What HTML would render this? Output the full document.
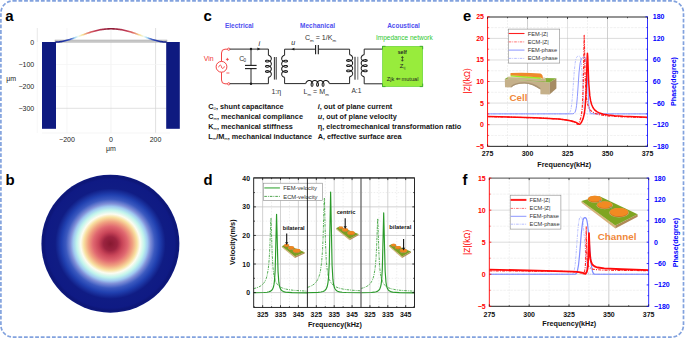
<!DOCTYPE html>
<html><head><meta charset="utf-8"><style>
html,body{margin:0;padding:0;background:#fff;width:685px;height:338px;overflow:hidden;}
svg{display:block;font-family:"Liberation Sans", sans-serif;}
</style></head><body>
<svg width="685" height="338" viewBox="0 0 685 338" font-family='"Liberation Sans", sans-serif'><rect x="0.9" y="0.9" width="682.6" height="336.2" rx="12" ry="12" fill="none" stroke="#82a2de" stroke-width="1.7" stroke-dasharray="3.8 1.8"/>
<text x="5.30" y="21.00" font-size="15" font-weight="bold" fill="#000" text-anchor="start" >a</text>
<line x1="37.30" y1="28.00" x2="37.30" y2="42.00" stroke="#e0e0e0" stroke-width="0.7" />
<line x1="37.30" y1="42.00" x2="37.30" y2="133.00" stroke="#f3f3f3" stroke-width="0.7" />
<line x1="67.00" y1="28.00" x2="67.00" y2="133.00" stroke="#f2f2f2" stroke-width="0.7" />
<line x1="111.00" y1="28.00" x2="111.00" y2="133.00" stroke="#ececec" stroke-width="0.7" />
<line x1="155.60" y1="28.00" x2="155.60" y2="133.00" stroke="#d2d2d2" stroke-width="0.7" />
<line x1="42.00" y1="64.50" x2="170.00" y2="64.50" stroke="#f4f4f4" stroke-width="0.7" />
<line x1="42.00" y1="86.50" x2="170.00" y2="86.50" stroke="#f2f2f2" stroke-width="0.7" />
<line x1="42.00" y1="108.30" x2="170.00" y2="108.30" stroke="#d4d4d4" stroke-width="0.7" />
<line x1="42.00" y1="133.00" x2="170.00" y2="133.00" stroke="#f0f0f0" stroke-width="0.7" />
<text x="34.20" y="45.30" font-size="7" font-weight="normal" fill="#222" text-anchor="end" >0</text>
<text x="34.20" y="67.10" font-size="7" font-weight="normal" fill="#222" text-anchor="end" >−100</text>
<text x="34.20" y="89.10" font-size="7" font-weight="normal" fill="#222" text-anchor="end" >−200</text>
<text x="34.20" y="111.00" font-size="7" font-weight="normal" fill="#222" text-anchor="end" >−300</text>
<text x="6.20" y="80.80" font-size="7" font-weight="normal" fill="#222" text-anchor="start" >μm</text>
<text x="67.00" y="142.20" font-size="7" font-weight="normal" fill="#222" text-anchor="middle" >−200</text>
<text x="111.00" y="142.20" font-size="7" font-weight="normal" fill="#222" text-anchor="middle" >0</text>
<text x="155.50" y="142.20" font-size="7" font-weight="normal" fill="#222" text-anchor="middle" >200</text>
<text x="111.00" y="150.80" font-size="7" font-weight="normal" fill="#222" text-anchor="middle" >μm</text>
<rect x="55" y="40" width="112" height="2.2" fill="#c8c8c8" stroke="#a8a8a8" stroke-width="0.5"/>
<rect x="42" y="42" width="14" height="86.8" fill="#0e1a80"/>
<rect x="166.2" y="42" width="13.6" height="86.8" fill="#0e1a80"/>
<defs><linearGradient id="ga" x1="56" x2="166" y1="0" y2="0" gradientUnits="userSpaceOnUse"><stop offset="0.0000" stop-color="#101a82"/><stop offset="0.1000" stop-color="#2840b0"/><stop offset="0.1450" stop-color="#5a7ad0"/><stop offset="0.1675" stop-color="#98d0f0"/><stop offset="0.2000" stop-color="#eefcf4"/><stop offset="0.2425" stop-color="#f8e096"/><stop offset="0.2950" stop-color="#e2786a"/><stop offset="0.3600" stop-color="#c23a55"/><stop offset="0.5000" stop-color="#8a1a35"/><stop offset="0.5000" stop-color="#8a1a35"/><stop offset="0.6400" stop-color="#c23a55"/><stop offset="0.7050" stop-color="#e2786a"/><stop offset="0.7575" stop-color="#f8e096"/><stop offset="0.8000" stop-color="#eefcf4"/><stop offset="0.8325" stop-color="#98d0f0"/><stop offset="0.8550" stop-color="#5a7ad0"/><stop offset="0.9000" stop-color="#2840b0"/><stop offset="1.0000" stop-color="#101a82"/></linearGradient></defs>
<path d="M56.00,42.00 L57.00,41.98 L58.00,41.93 L59.00,41.85 L60.00,41.74 L61.00,41.60 L62.00,41.44 L63.00,41.25 L64.00,41.04 L65.00,40.81 L66.00,40.56 L67.00,40.29 L68.00,40.01 L69.00,39.71 L70.00,39.39 L71.00,39.07 L72.00,38.74 L73.00,38.39 L74.00,38.04 L75.00,37.69 L76.00,37.33 L77.00,36.96 L78.00,36.59 L79.00,36.22 L80.00,35.85 L81.00,35.49 L82.00,35.12 L83.00,34.76 L84.00,34.40 L85.00,34.04 L86.00,33.69 L87.00,33.35 L88.00,33.01 L89.00,32.69 L90.00,32.37 L91.00,32.06 L92.00,31.76 L93.00,31.48 L94.00,31.20 L95.00,30.94 L96.00,30.69 L97.00,30.46 L98.00,30.23 L99.00,30.03 L100.00,29.83 L101.00,29.66 L102.00,29.50 L103.00,29.35 L104.00,29.22 L105.00,29.11 L106.00,29.02 L107.00,28.94 L108.00,28.88 L109.00,28.83 L110.00,28.81 L111.00,28.80 L112.00,28.81 L113.00,28.83 L114.00,28.88 L115.00,28.94 L116.00,29.02 L117.00,29.11 L118.00,29.22 L119.00,29.35 L120.00,29.50 L121.00,29.66 L122.00,29.83 L123.00,30.03 L124.00,30.23 L125.00,30.46 L126.00,30.69 L127.00,30.94 L128.00,31.20 L129.00,31.48 L130.00,31.76 L131.00,32.06 L132.00,32.37 L133.00,32.69 L134.00,33.01 L135.00,33.35 L136.00,33.69 L137.00,34.04 L138.00,34.40 L139.00,34.76 L140.00,35.12 L141.00,35.49 L142.00,35.85 L143.00,36.22 L144.00,36.59 L145.00,36.96 L146.00,37.33 L147.00,37.69 L148.00,38.04 L149.00,38.39 L150.00,38.74 L151.00,39.07 L152.00,39.39 L153.00,39.71 L154.00,40.01 L155.00,40.29 L156.00,40.56 L157.00,40.81 L158.00,41.04 L159.00,41.25 L160.00,41.44 L161.00,41.60 L162.00,41.74 L163.00,41.85 L164.00,41.93 L165.00,41.98 L166.00,42.00" fill="none" stroke="url(#ga)" stroke-width="1.6" stroke-linejoin="round" stroke-linecap="round"/>
<text x="5.60" y="184.60" font-size="15" font-weight="bold" fill="#000" text-anchor="start" >b</text>
<defs><radialGradient id="gb" cx="110.4" cy="243.7" r="69" gradientUnits="userSpaceOnUse"><stop offset="0" stop-color="#861830"/><stop offset="0.1" stop-color="#9c2440"/><stop offset="0.17" stop-color="#c84458"/><stop offset="0.25" stop-color="#e06870"/><stop offset="0.32" stop-color="#f0a080"/><stop offset="0.385" stop-color="#f8e0a0"/><stop offset="0.43" stop-color="#fcfcf0"/><stop offset="0.49" stop-color="#c0f4ec"/><stop offset="0.54" stop-color="#a0c8f0"/><stop offset="0.58" stop-color="#8090d8"/><stop offset="0.645" stop-color="#3c5ac0"/><stop offset="0.71" stop-color="#2040b0"/><stop offset="0.8" stop-color="#101c84"/><stop offset="0.93" stop-color="#0f1a84"/><stop offset="0.97" stop-color="#0d1676"/><stop offset="1" stop-color="#0f1a80"/></radialGradient></defs>
<circle cx="110.4" cy="243.7" r="69" fill="url(#gb)"/>
<text x="203.60" y="21.20" font-size="15" font-weight="bold" fill="#000" text-anchor="start" >c</text>
<text x="225.00" y="28.00" font-size="6.45" font-weight="bold" fill="#5050f0" text-anchor="start" >Electrical</text>
<text x="300.10" y="27.60" font-size="6.5" font-weight="bold" fill="#5050f0" text-anchor="start" >Mechanical</text>
<text x="387.20" y="28.00" font-size="6.47" font-weight="bold" fill="#5050f0" text-anchor="start" >Acoustical</text>
<text x="375.90" y="39.50" font-size="6.53" font-weight="normal" fill="#30c830" text-anchor="start" >Impedance network</text>
<circle cx="228.7" cy="49.2" r="1.15" fill="#fff" stroke="#f03030" stroke-width="0.8"/>
<circle cx="228.7" cy="83.8" r="1.15" fill="#fff" stroke="#f03030" stroke-width="0.8"/>
<path d="M227.5,49.2 L225,49.2 Q221.5,49.2 221.5,53 L221.5,61.3" fill="none" stroke="#f03030" stroke-width="0.9"/>
<path d="M227.5,83.8 L225,83.8 Q221.5,83.8 221.5,80 L221.5,72.3" fill="none" stroke="#f03030" stroke-width="0.9"/>
<circle cx="221.5" cy="66.8" r="5.4" fill="none" stroke="#f03030" stroke-width="0.9"/>
<path d="M218.6,67.3 C219.6,64.3 221.2,64.6 221.5,66.8 C221.8,69 223.4,69.3 224.4,66.3" fill="none" stroke="#f03030" stroke-width="0.8"/>
<path d="M225.9,59.4 h3 M227.4,57.9 v3 M226.4,73 h3" stroke="#f03030" stroke-width="0.75"/>
<text x="203.80" y="61.20" font-size="6.9" font-weight="normal" fill="#f03030" text-anchor="start" >Vin</text>
<line x1="229.80" y1="49.10" x2="268.40" y2="49.10" stroke="#1a1a1a" stroke-width="0.95" />
<line x1="229.80" y1="83.70" x2="268.40" y2="83.70" stroke="#1a1a1a" stroke-width="0.95" />
<circle cx="251" cy="49" r="1.2" fill="#1a1a1a"/><circle cx="251" cy="83.7" r="1.2" fill="#1a1a1a"/>
<line x1="251.00" y1="49.00" x2="251.00" y2="65.40" stroke="#1a1a1a" stroke-width="0.95" />
<line x1="251.00" y1="68.60" x2="251.00" y2="83.70" stroke="#1a1a1a" stroke-width="0.95" />
<line x1="245.00" y1="65.40" x2="256.60" y2="65.40" stroke="#1a1a1a" stroke-width="1.1" />
<line x1="245.00" y1="68.60" x2="256.60" y2="68.60" stroke="#1a1a1a" stroke-width="1.1" />
<text x="239.20" y="60.60" font-size="6.8" font-weight="normal" fill="#333" text-anchor="start" >C</text>
<text x="243.60" y="62.20" font-size="4.6" font-weight="normal" fill="#333" text-anchor="start" >0</text>
<path d="M257.4,47.6 L260.4,49.05 L257.4,50.5 Z" fill="#1a1a1a"/>
<text x="259.30" y="45.60" font-size="7" font-weight="normal" fill="#222" text-anchor="middle" font-style="italic" >i</text>
<line x1="268.40" y1="49.10" x2="268.40" y2="55.20" stroke="#1a1a1a" stroke-width="0.95" />
<path d="M268.40,55.20 L268.56,55.25 L268.72,55.30 L268.88,55.36 L269.03,55.43 L269.19,55.50 L269.34,55.58 L269.49,55.66 L269.63,55.75 L269.78,55.85 L269.92,55.95 L270.05,56.06 L270.18,56.17 L270.30,56.28 L270.42,56.40 L270.53,56.52 L270.63,56.65 L270.73,56.79 L270.82,56.92 L270.91,57.06 L270.98,57.20 L271.05,57.35 L271.11,57.49 L271.17,57.64 L271.21,57.79 L271.24,57.95 L271.27,58.10 L271.29,58.26 L271.30,58.41 L271.30,58.57 L271.29,58.72 L271.27,58.88 L271.25,59.03 L271.21,59.18 L271.17,59.34 L271.12,59.48 L271.06,59.63 L270.99,59.78 L270.92,59.92 L270.84,60.06 L270.75,60.20 L270.65,60.33 L270.54,60.46 L270.43,60.58 L270.32,60.70 L270.20,60.82 L270.07,60.93 L269.93,61.04 L269.80,61.14 L269.66,61.23 L269.51,61.32 L269.36,61.41 L269.21,61.49 L269.05,61.56 L268.90,61.63 L268.74,61.69 L268.58,61.74 L268.42,61.79 L268.26,61.84 L268.10,61.87 L267.95,61.91 L267.79,61.93 L267.63,61.95 L267.48,61.96 L267.33,61.97 L267.19,61.97 L267.04,61.97 L266.90,61.96 L266.77,61.95 L266.64,61.93 L266.52,61.91 L266.40,61.88 L266.29,61.85 L266.18,61.81 L266.08,61.77 L265.99,61.72 L265.90,61.68 L265.83,61.63 L265.76,61.57 L265.70,61.52 L265.64,61.46 L265.60,61.40 L265.56,61.34 L265.53,61.27 L265.51,61.21 L265.50,61.15 L265.50,61.08 L265.51,61.02 L265.52,60.95 L265.55,60.89 L265.58,60.83 L265.62,60.77 L265.67,60.71 L265.73,60.65 L265.80,60.60 L265.87,60.55 L265.95,60.50 L266.04,60.45 L266.14,60.41 L266.24,60.37 L266.35,60.34 L266.47,60.31 L266.59,60.28 L266.71,60.26 L266.85,60.24 L266.98,60.23 L267.12,60.23 L267.27,60.23 L267.42,60.23 L267.57,60.24 L267.72,60.26 L267.88,60.28 L268.04,60.31 L268.20,60.35 L268.35,60.39 L268.51,60.43 L268.67,60.49 L268.83,60.55 L268.99,60.61 L269.14,60.68 L269.30,60.76 L269.45,60.84 L269.59,60.93 L269.74,61.02 L269.88,61.12 L270.01,61.22 L270.14,61.33 L270.27,61.45 L270.39,61.57 L270.50,61.69 L270.61,61.82 L270.71,61.95 L270.80,62.08 L270.88,62.22 L270.96,62.36 L271.03,62.51 L271.10,62.65 L271.15,62.80 L271.20,62.95 L271.24,63.10 L271.26,63.26 L271.28,63.41 L271.30,63.57 L271.30,63.72 L271.29,63.88 L271.28,64.03 L271.26,64.19 L271.23,64.34 L271.18,64.49 L271.14,64.64 L271.08,64.79 L271.01,64.94 L270.94,65.08 L270.86,65.22 L270.77,65.36 L270.68,65.49 L270.58,65.62 L270.47,65.75 L270.35,65.87 L270.23,65.99 L270.10,66.10 L269.97,66.21 L269.84,66.31 L269.70,66.41 L269.55,66.50 L269.40,66.58 L269.25,66.66 L269.10,66.74 L268.94,66.81 L268.79,66.87 L268.63,66.93 L268.47,66.98 L268.31,67.03 L268.15,67.06 L267.99,67.10 L267.83,67.12 L267.68,67.15 L267.53,67.16 L267.37,67.17 L267.23,67.17 L267.08,67.17 L266.94,67.16 L266.81,67.15 L266.68,67.14 L266.55,67.11 L266.43,67.09 L266.32,67.05 L266.21,67.02 L266.11,66.98 L266.01,66.94 L265.93,66.89 L265.85,66.84 L265.78,66.79 L265.71,66.73 L265.66,66.67 L265.61,66.62 L265.57,66.55 L265.54,66.49 L265.52,66.43 L265.50,66.36 L265.50,66.30 L265.50,66.24 L265.52,66.17 L265.54,66.11 L265.57,66.05 L265.61,65.98 L265.66,65.93 L265.71,65.87 L265.78,65.81 L265.85,65.76 L265.93,65.71 L266.01,65.66 L266.11,65.62 L266.21,65.58 L266.32,65.55 L266.43,65.51 L266.55,65.49 L266.68,65.46 L266.81,65.45 L266.94,65.44 L267.08,65.43 L267.23,65.43 L267.37,65.43 L267.53,65.44 L267.68,65.45 L267.83,65.48 L267.99,65.50 L268.15,65.54 L268.31,65.57 L268.47,65.62 L268.63,65.67 L268.79,65.73 L268.94,65.79 L269.10,65.86 L269.25,65.94 L269.40,66.02 L269.55,66.10 L269.70,66.19 L269.84,66.29 L269.97,66.39 L270.10,66.50 L270.23,66.61 L270.35,66.73 L270.47,66.85 L270.58,66.98 L270.68,67.11 L270.77,67.24 L270.86,67.38 L270.94,67.52 L271.01,67.66 L271.08,67.81 L271.14,67.96 L271.18,68.11 L271.23,68.26 L271.26,68.41 L271.28,68.57 L271.29,68.72 L271.30,68.88 L271.30,69.03 L271.28,69.19 L271.26,69.34 L271.24,69.50 L271.20,69.65 L271.15,69.80 L271.10,69.95 L271.03,70.09 L270.96,70.24 L270.88,70.38 L270.80,70.52 L270.71,70.65 L270.61,70.78 L270.50,70.91 L270.39,71.03 L270.27,71.15 L270.14,71.27 L270.01,71.38 L269.88,71.48 L269.74,71.58 L269.59,71.67 L269.45,71.76 L269.30,71.84 L269.14,71.92 L268.99,71.99 L268.83,72.05 L268.67,72.11 L268.51,72.17 L268.35,72.21 L268.20,72.25 L268.04,72.29 L267.88,72.32 L267.72,72.34 L267.57,72.36 L267.42,72.37 L267.27,72.37 L267.12,72.37 L266.98,72.37 L266.85,72.36 L266.71,72.34 L266.59,72.32 L266.47,72.29 L266.35,72.26 L266.24,72.23 L266.14,72.19 L266.04,72.15 L265.95,72.10 L265.87,72.05 L265.80,72.00 L265.73,71.95 L265.67,71.89 L265.62,71.83 L265.58,71.77 L265.55,71.71 L265.52,71.65 L265.51,71.58 L265.50,71.52 L265.50,71.45 L265.51,71.39 L265.53,71.33 L265.56,71.26 L265.60,71.20 L265.64,71.14 L265.70,71.08 L265.76,71.03 L265.83,70.97 L265.90,70.92 L265.99,70.88 L266.08,70.83 L266.18,70.79 L266.29,70.75 L266.40,70.72 L266.52,70.69 L266.64,70.67 L266.77,70.65 L266.90,70.64 L267.04,70.63 L267.19,70.63 L267.33,70.63 L267.48,70.64 L267.63,70.65 L267.79,70.67 L267.95,70.69 L268.10,70.73 L268.26,70.76 L268.42,70.81 L268.58,70.86 L268.74,70.91 L268.90,70.97 L269.05,71.04 L269.21,71.11 L269.36,71.19 L269.51,71.28 L269.66,71.37 L269.80,71.46 L269.93,71.56 L270.07,71.67 L270.20,71.78 L270.32,71.90 L270.43,72.02 L270.54,72.14 L270.65,72.27 L270.75,72.40 L270.84,72.54 L270.92,72.68 L270.99,72.82 L271.06,72.97 L271.12,73.12 L271.17,73.26 L271.21,73.42 L271.25,73.57 L271.27,73.72 L271.29,73.88 L271.30,74.03 L271.30,74.19 L271.29,74.34 L271.27,74.50 L271.24,74.65 L271.21,74.81 L271.17,74.96 L271.11,75.11 L271.05,75.25 L270.98,75.40 L270.91,75.54 L270.82,75.68 L270.73,75.81 L270.63,75.95 L270.53,76.08 L270.42,76.20 L270.30,76.32 L270.18,76.43 L270.05,76.54 L269.92,76.65 L269.78,76.75 L269.63,76.85 L269.49,76.94 L269.34,77.02 L269.19,77.10 L269.03,77.17 L268.88,77.24 L268.72,77.30 L268.56,77.35 L268.40,77.40" fill="none" stroke="#1a1a1a" stroke-width="1.05" stroke-linejoin="round" />
<line x1="268.40" y1="77.40" x2="268.40" y2="83.70" stroke="#1a1a1a" stroke-width="0.95" />
<line x1="274.40" y1="57.00" x2="274.40" y2="79.60" stroke="#1a1a1a" stroke-width="0.9" />
<line x1="276.20" y1="57.00" x2="276.20" y2="79.60" stroke="#1a1a1a" stroke-width="0.9" />
<path d="M284.60,55.20 L284.44,55.25 L284.28,55.30 L284.12,55.36 L283.97,55.43 L283.81,55.50 L283.66,55.58 L283.51,55.66 L283.37,55.75 L283.22,55.85 L283.08,55.95 L282.95,56.06 L282.82,56.17 L282.70,56.28 L282.58,56.40 L282.47,56.52 L282.37,56.65 L282.27,56.79 L282.18,56.92 L282.09,57.06 L282.02,57.20 L281.95,57.35 L281.89,57.49 L281.83,57.64 L281.79,57.79 L281.76,57.95 L281.73,58.10 L281.71,58.26 L281.70,58.41 L281.70,58.57 L281.71,58.72 L281.73,58.88 L281.75,59.03 L281.79,59.18 L281.83,59.34 L281.88,59.48 L281.94,59.63 L282.01,59.78 L282.08,59.92 L282.16,60.06 L282.25,60.20 L282.35,60.33 L282.46,60.46 L282.57,60.58 L282.68,60.70 L282.80,60.82 L282.93,60.93 L283.07,61.04 L283.20,61.14 L283.34,61.23 L283.49,61.32 L283.64,61.41 L283.79,61.49 L283.95,61.56 L284.10,61.63 L284.26,61.69 L284.42,61.74 L284.58,61.79 L284.74,61.84 L284.90,61.87 L285.05,61.91 L285.21,61.93 L285.37,61.95 L285.52,61.96 L285.67,61.97 L285.81,61.97 L285.96,61.97 L286.10,61.96 L286.23,61.95 L286.36,61.93 L286.48,61.91 L286.60,61.88 L286.71,61.85 L286.82,61.81 L286.92,61.77 L287.01,61.72 L287.10,61.68 L287.17,61.63 L287.24,61.57 L287.30,61.52 L287.36,61.46 L287.40,61.40 L287.44,61.34 L287.47,61.27 L287.49,61.21 L287.50,61.15 L287.50,61.08 L287.49,61.02 L287.48,60.95 L287.45,60.89 L287.42,60.83 L287.38,60.77 L287.33,60.71 L287.27,60.65 L287.20,60.60 L287.13,60.55 L287.05,60.50 L286.96,60.45 L286.86,60.41 L286.76,60.37 L286.65,60.34 L286.53,60.31 L286.41,60.28 L286.29,60.26 L286.15,60.24 L286.02,60.23 L285.88,60.23 L285.73,60.23 L285.58,60.23 L285.43,60.24 L285.28,60.26 L285.12,60.28 L284.96,60.31 L284.80,60.35 L284.65,60.39 L284.49,60.43 L284.33,60.49 L284.17,60.55 L284.01,60.61 L283.86,60.68 L283.70,60.76 L283.55,60.84 L283.41,60.93 L283.26,61.02 L283.12,61.12 L282.99,61.22 L282.86,61.33 L282.73,61.45 L282.61,61.57 L282.50,61.69 L282.39,61.82 L282.29,61.95 L282.20,62.08 L282.12,62.22 L282.04,62.36 L281.97,62.51 L281.90,62.65 L281.85,62.80 L281.80,62.95 L281.76,63.10 L281.74,63.26 L281.72,63.41 L281.70,63.57 L281.70,63.72 L281.71,63.88 L281.72,64.03 L281.74,64.19 L281.77,64.34 L281.82,64.49 L281.86,64.64 L281.92,64.79 L281.99,64.94 L282.06,65.08 L282.14,65.22 L282.23,65.36 L282.32,65.49 L282.42,65.62 L282.53,65.75 L282.65,65.87 L282.77,65.99 L282.90,66.10 L283.03,66.21 L283.16,66.31 L283.30,66.41 L283.45,66.50 L283.60,66.58 L283.75,66.66 L283.90,66.74 L284.06,66.81 L284.21,66.87 L284.37,66.93 L284.53,66.98 L284.69,67.03 L284.85,67.06 L285.01,67.10 L285.17,67.12 L285.32,67.15 L285.47,67.16 L285.63,67.17 L285.77,67.17 L285.92,67.17 L286.06,67.16 L286.19,67.15 L286.32,67.14 L286.45,67.11 L286.57,67.09 L286.68,67.05 L286.79,67.02 L286.89,66.98 L286.99,66.94 L287.07,66.89 L287.15,66.84 L287.22,66.79 L287.29,66.73 L287.34,66.67 L287.39,66.62 L287.43,66.55 L287.46,66.49 L287.48,66.43 L287.50,66.36 L287.50,66.30 L287.50,66.24 L287.48,66.17 L287.46,66.11 L287.43,66.05 L287.39,65.98 L287.34,65.93 L287.29,65.87 L287.22,65.81 L287.15,65.76 L287.07,65.71 L286.99,65.66 L286.89,65.62 L286.79,65.58 L286.68,65.55 L286.57,65.51 L286.45,65.49 L286.32,65.46 L286.19,65.45 L286.06,65.44 L285.92,65.43 L285.77,65.43 L285.63,65.43 L285.47,65.44 L285.32,65.45 L285.17,65.48 L285.01,65.50 L284.85,65.54 L284.69,65.57 L284.53,65.62 L284.37,65.67 L284.21,65.73 L284.06,65.79 L283.90,65.86 L283.75,65.94 L283.60,66.02 L283.45,66.10 L283.30,66.19 L283.16,66.29 L283.03,66.39 L282.90,66.50 L282.77,66.61 L282.65,66.73 L282.53,66.85 L282.42,66.98 L282.32,67.11 L282.23,67.24 L282.14,67.38 L282.06,67.52 L281.99,67.66 L281.92,67.81 L281.86,67.96 L281.82,68.11 L281.77,68.26 L281.74,68.41 L281.72,68.57 L281.71,68.72 L281.70,68.88 L281.70,69.03 L281.72,69.19 L281.74,69.34 L281.76,69.50 L281.80,69.65 L281.85,69.80 L281.90,69.95 L281.97,70.09 L282.04,70.24 L282.12,70.38 L282.20,70.52 L282.29,70.65 L282.39,70.78 L282.50,70.91 L282.61,71.03 L282.73,71.15 L282.86,71.27 L282.99,71.38 L283.12,71.48 L283.26,71.58 L283.41,71.67 L283.55,71.76 L283.70,71.84 L283.86,71.92 L284.01,71.99 L284.17,72.05 L284.33,72.11 L284.49,72.17 L284.65,72.21 L284.80,72.25 L284.96,72.29 L285.12,72.32 L285.28,72.34 L285.43,72.36 L285.58,72.37 L285.73,72.37 L285.88,72.37 L286.02,72.37 L286.15,72.36 L286.29,72.34 L286.41,72.32 L286.53,72.29 L286.65,72.26 L286.76,72.23 L286.86,72.19 L286.96,72.15 L287.05,72.10 L287.13,72.05 L287.20,72.00 L287.27,71.95 L287.33,71.89 L287.38,71.83 L287.42,71.77 L287.45,71.71 L287.48,71.65 L287.49,71.58 L287.50,71.52 L287.50,71.45 L287.49,71.39 L287.47,71.33 L287.44,71.26 L287.40,71.20 L287.36,71.14 L287.30,71.08 L287.24,71.03 L287.17,70.97 L287.10,70.92 L287.01,70.88 L286.92,70.83 L286.82,70.79 L286.71,70.75 L286.60,70.72 L286.48,70.69 L286.36,70.67 L286.23,70.65 L286.10,70.64 L285.96,70.63 L285.81,70.63 L285.67,70.63 L285.52,70.64 L285.37,70.65 L285.21,70.67 L285.05,70.69 L284.90,70.73 L284.74,70.76 L284.58,70.81 L284.42,70.86 L284.26,70.91 L284.10,70.97 L283.95,71.04 L283.79,71.11 L283.64,71.19 L283.49,71.28 L283.34,71.37 L283.20,71.46 L283.07,71.56 L282.93,71.67 L282.80,71.78 L282.68,71.90 L282.57,72.02 L282.46,72.14 L282.35,72.27 L282.25,72.40 L282.16,72.54 L282.08,72.68 L282.01,72.82 L281.94,72.97 L281.88,73.12 L281.83,73.26 L281.79,73.42 L281.75,73.57 L281.73,73.72 L281.71,73.88 L281.70,74.03 L281.70,74.19 L281.71,74.34 L281.73,74.50 L281.76,74.65 L281.79,74.81 L281.83,74.96 L281.89,75.11 L281.95,75.25 L282.02,75.40 L282.09,75.54 L282.18,75.68 L282.27,75.81 L282.37,75.95 L282.47,76.08 L282.58,76.20 L282.70,76.32 L282.82,76.43 L282.95,76.54 L283.08,76.65 L283.22,76.75 L283.37,76.85 L283.51,76.94 L283.66,77.02 L283.81,77.10 L283.97,77.17 L284.12,77.24 L284.28,77.30 L284.44,77.35 L284.60,77.40" fill="none" stroke="#1a1a1a" stroke-width="1.05" stroke-linejoin="round" />
<line x1="284.60" y1="49.20" x2="284.60" y2="55.20" stroke="#1a1a1a" stroke-width="0.95" />
<line x1="284.60" y1="77.40" x2="284.60" y2="83.60" stroke="#1a1a1a" stroke-width="0.95" />
<text x="276.30" y="94.00" font-size="7" font-weight="normal" fill="#333" text-anchor="middle" >1:η</text>
<line x1="284.60" y1="49.20" x2="315.60" y2="49.20" stroke="#1a1a1a" stroke-width="0.95" />
<line x1="318.30" y1="49.20" x2="349.60" y2="49.20" stroke="#1a1a1a" stroke-width="0.95" />
<line x1="315.60" y1="44.90" x2="315.60" y2="54.30" stroke="#1a1a1a" stroke-width="1.1" />
<line x1="318.30" y1="44.90" x2="318.30" y2="54.30" stroke="#1a1a1a" stroke-width="1.1" />
<path d="M294.4,47.8 L291.4,49.2 L294.4,50.6 Z" fill="#1a1a1a"/>
<text x="293.30" y="45.30" font-size="7" font-weight="normal" fill="#222" text-anchor="middle" font-style="italic" >u</text>
<text x="304.9" y="40.3" font-size="7.1" fill="#333">C<tspan font-size="4.4" dy="1.4">m</tspan><tspan dy="-1.4"> = 1/K</tspan><tspan font-size="4.4" dy="1.4">m</tspan></text>
<line x1="284.60" y1="83.60" x2="305.80" y2="83.60" stroke="#1a1a1a" stroke-width="0.95" />
<line x1="329.30" y1="83.60" x2="349.60" y2="83.60" stroke="#1a1a1a" stroke-width="0.95" />
<path d="M305.80,83.40 L305.85,83.24 L305.91,83.08 L305.97,82.92 L306.04,82.77 L306.12,82.61 L306.20,82.46 L306.29,82.31 L306.39,82.17 L306.49,82.02 L306.59,81.88 L306.70,81.75 L306.82,81.62 L306.94,81.50 L307.07,81.38 L307.20,81.27 L307.33,81.17 L307.47,81.07 L307.62,80.98 L307.76,80.89 L307.91,80.82 L308.06,80.75 L308.22,80.69 L308.38,80.63 L308.54,80.59 L308.70,80.56 L308.86,80.53 L309.02,80.51 L309.19,80.50 L309.35,80.50 L309.51,80.51 L309.68,80.53 L309.84,80.55 L310.00,80.59 L310.16,80.63 L310.32,80.68 L310.47,80.74 L310.62,80.81 L310.77,80.88 L310.92,80.96 L311.06,81.05 L311.20,81.15 L311.34,81.26 L311.47,81.37 L311.60,81.48 L311.72,81.60 L311.84,81.73 L311.95,81.87 L312.06,82.00 L312.16,82.14 L312.25,82.29 L312.34,82.44 L312.43,82.59 L312.50,82.75 L312.57,82.90 L312.64,83.06 L312.70,83.22 L312.75,83.38 L312.80,83.54 L312.84,83.70 L312.87,83.85 L312.90,84.01 L312.92,84.17 L312.93,84.32 L312.94,84.47 L312.94,84.61 L312.94,84.76 L312.93,84.90 L312.92,85.03 L312.90,85.16 L312.87,85.28 L312.85,85.40 L312.81,85.51 L312.77,85.62 L312.73,85.72 L312.69,85.81 L312.64,85.90 L312.58,85.97 L312.53,86.04 L312.47,86.10 L312.41,86.16 L312.35,86.20 L312.28,86.24 L312.22,86.27 L312.15,86.29 L312.08,86.30 L312.02,86.30 L311.95,86.29 L311.88,86.28 L311.82,86.25 L311.75,86.22 L311.69,86.18 L311.63,86.13 L311.57,86.07 L311.51,86.00 L311.46,85.93 L311.41,85.85 L311.36,85.76 L311.32,85.66 L311.28,85.56 L311.24,85.45 L311.21,85.33 L311.18,85.21 L311.16,85.09 L311.14,84.95 L311.13,84.82 L311.13,84.68 L311.13,84.53 L311.14,84.38 L311.15,84.23 L311.17,84.08 L311.19,83.92 L311.22,83.76 L311.26,83.60 L311.30,83.45 L311.35,83.29 L311.41,83.13 L311.47,82.97 L311.54,82.81 L311.61,82.66 L311.69,82.50 L311.78,82.35 L311.87,82.21 L311.97,82.06 L312.08,81.92 L312.19,81.79 L312.30,81.66 L312.42,81.53 L312.55,81.41 L312.67,81.30 L312.81,81.19 L312.95,81.09 L313.09,81.00 L313.23,80.92 L313.38,80.84 L313.53,80.77 L313.69,80.70 L313.85,80.65 L314.00,80.60 L314.16,80.56 L314.33,80.54 L314.49,80.52 L314.65,80.50 L314.82,80.50 L314.98,80.51 L315.14,80.52 L315.31,80.54 L315.47,80.57 L315.63,80.62 L315.79,80.66 L315.94,80.72 L316.09,80.79 L316.25,80.86 L316.39,80.94 L316.54,81.03 L316.68,81.12 L316.82,81.22 L316.95,81.33 L317.08,81.45 L317.20,81.57 L317.32,81.70 L317.43,81.83 L317.54,81.96 L317.64,82.10 L317.74,82.25 L317.83,82.40 L317.92,82.55 L318.00,82.70 L318.07,82.86 L318.14,83.01 L318.20,83.17 L318.25,83.33 L318.30,83.49 L318.34,83.65 L318.37,83.81 L318.40,83.97 L318.43,84.12 L318.44,84.27 L318.45,84.43 L318.46,84.57 L318.46,84.72 L318.45,84.86 L318.44,84.99 L318.42,85.12 L318.40,85.25 L318.37,85.37 L318.34,85.48 L318.30,85.59 L318.26,85.69 L318.21,85.79 L318.16,85.87 L318.11,85.95 L318.06,86.02 L318.00,86.09 L317.94,86.14 L317.88,86.19 L317.82,86.23 L317.75,86.26 L317.68,86.28 L317.62,86.30 L317.55,86.30 L317.48,86.30 L317.42,86.28 L317.35,86.26 L317.28,86.23 L317.22,86.19 L317.16,86.14 L317.10,86.09 L317.04,86.02 L316.99,85.95 L316.94,85.87 L316.89,85.79 L316.84,85.69 L316.80,85.59 L316.76,85.48 L316.73,85.37 L316.70,85.25 L316.68,85.12 L316.66,84.99 L316.65,84.86 L316.64,84.72 L316.64,84.57 L316.65,84.43 L316.66,84.27 L316.67,84.12 L316.70,83.97 L316.73,83.81 L316.76,83.65 L316.80,83.49 L316.85,83.33 L316.90,83.17 L316.96,83.01 L317.03,82.86 L317.10,82.70 L317.18,82.55 L317.27,82.40 L317.36,82.25 L317.46,82.10 L317.56,81.96 L317.67,81.83 L317.78,81.70 L317.90,81.57 L318.02,81.45 L318.15,81.33 L318.28,81.22 L318.42,81.12 L318.56,81.03 L318.71,80.94 L318.85,80.86 L319.01,80.79 L319.16,80.72 L319.31,80.66 L319.47,80.62 L319.63,80.57 L319.79,80.54 L319.96,80.52 L320.12,80.51 L320.28,80.50 L320.45,80.50 L320.61,80.52 L320.77,80.54 L320.94,80.56 L321.10,80.60 L321.25,80.65 L321.41,80.70 L321.57,80.77 L321.72,80.84 L321.87,80.92 L322.01,81.00 L322.15,81.09 L322.29,81.19 L322.43,81.30 L322.55,81.41 L322.68,81.53 L322.80,81.66 L322.91,81.79 L323.02,81.92 L323.13,82.06 L323.23,82.21 L323.32,82.35 L323.41,82.50 L323.49,82.66 L323.56,82.81 L323.63,82.97 L323.69,83.13 L323.75,83.29 L323.80,83.45 L323.84,83.60 L323.88,83.76 L323.91,83.92 L323.93,84.08 L323.95,84.23 L323.96,84.38 L323.97,84.53 L323.97,84.68 L323.97,84.82 L323.96,84.95 L323.94,85.09 L323.92,85.21 L323.89,85.33 L323.86,85.45 L323.82,85.56 L323.78,85.66 L323.74,85.76 L323.69,85.85 L323.64,85.93 L323.59,86.00 L323.53,86.07 L323.47,86.13 L323.41,86.18 L323.35,86.22 L323.28,86.25 L323.22,86.28 L323.15,86.29 L323.08,86.30 L323.02,86.30 L322.95,86.29 L322.88,86.27 L322.82,86.24 L322.75,86.20 L322.69,86.16 L322.63,86.10 L322.57,86.04 L322.52,85.97 L322.46,85.90 L322.41,85.81 L322.37,85.72 L322.33,85.62 L322.29,85.51 L322.25,85.40 L322.23,85.28 L322.20,85.16 L322.18,85.03 L322.17,84.90 L322.16,84.76 L322.16,84.61 L322.16,84.47 L322.17,84.32 L322.18,84.17 L322.20,84.01 L322.23,83.85 L322.26,83.70 L322.30,83.54 L322.35,83.38 L322.40,83.22 L322.46,83.06 L322.53,82.90 L322.60,82.75 L322.67,82.59 L322.76,82.44 L322.85,82.29 L322.94,82.14 L323.04,82.00 L323.15,81.87 L323.26,81.73 L323.38,81.60 L323.50,81.48 L323.63,81.37 L323.76,81.26 L323.90,81.15 L324.04,81.05 L324.18,80.96 L324.33,80.88 L324.48,80.81 L324.63,80.74 L324.78,80.68 L324.94,80.63 L325.10,80.59 L325.26,80.55 L325.42,80.53 L325.59,80.51 L325.75,80.50 L325.91,80.50 L326.08,80.51 L326.24,80.53 L326.40,80.56 L326.56,80.59 L326.72,80.63 L326.88,80.69 L327.04,80.75 L327.19,80.82 L327.34,80.89 L327.48,80.98 L327.63,81.07 L327.77,81.17 L327.90,81.27 L328.03,81.38 L328.16,81.50 L328.28,81.62 L328.40,81.75 L328.51,81.88 L328.61,82.02 L328.71,82.17 L328.81,82.31 L328.90,82.46 L328.98,82.61 L329.06,82.77 L329.13,82.92 L329.19,83.08 L329.25,83.24 L329.30,83.40" fill="none" stroke="#1a1a1a" stroke-width="1.05" stroke-linejoin="round" />
<text x="303.5" y="94.1" font-size="7.1" fill="#333">L<tspan font-size="4.4" dy="1.4">m</tspan><tspan dy="-1.4"> = M</tspan><tspan font-size="4.4" dy="1.4">m</tspan></text>
<line x1="349.60" y1="49.20" x2="349.60" y2="54.60" stroke="#1a1a1a" stroke-width="0.95" />
<line x1="349.60" y1="76.80" x2="349.60" y2="83.60" stroke="#1a1a1a" stroke-width="0.95" />
<path d="M349.60,54.60 L349.76,54.65 L349.93,54.70 L350.09,54.76 L350.25,54.83 L350.41,54.90 L350.57,54.98 L350.73,55.06 L350.88,55.15 L351.02,55.25 L351.17,55.35 L351.31,55.46 L351.44,55.57 L351.57,55.68 L351.69,55.80 L351.80,55.92 L351.91,56.05 L352.01,56.19 L352.11,56.32 L352.19,56.46 L352.27,56.60 L352.34,56.75 L352.41,56.89 L352.46,57.04 L352.51,57.19 L352.54,57.35 L352.57,57.50 L352.59,57.66 L352.60,57.81 L352.60,57.97 L352.59,58.12 L352.57,58.28 L352.55,58.43 L352.51,58.58 L352.47,58.74 L352.41,58.88 L352.35,59.03 L352.28,59.18 L352.21,59.32 L352.12,59.46 L352.03,59.60 L351.93,59.73 L351.82,59.86 L351.70,59.98 L351.58,60.10 L351.46,60.22 L351.33,60.33 L351.19,60.44 L351.05,60.54 L350.90,60.63 L350.75,60.72 L350.59,60.81 L350.44,60.89 L350.28,60.96 L350.12,61.03 L349.95,61.09 L349.79,61.14 L349.62,61.19 L349.46,61.24 L349.29,61.27 L349.13,61.31 L348.97,61.33 L348.81,61.35 L348.65,61.36 L348.50,61.37 L348.34,61.37 L348.20,61.37 L348.05,61.36 L347.91,61.35 L347.78,61.33 L347.65,61.31 L347.53,61.28 L347.41,61.25 L347.30,61.21 L347.20,61.17 L347.11,61.12 L347.02,61.08 L346.94,61.03 L346.87,60.97 L346.80,60.92 L346.75,60.86 L346.70,60.80 L346.66,60.74 L346.63,60.67 L346.61,60.61 L346.60,60.55 L346.60,60.48 L346.61,60.42 L346.62,60.35 L346.65,60.29 L346.68,60.23 L346.73,60.17 L346.78,60.11 L346.84,60.05 L346.91,60.00 L346.98,59.95 L347.07,59.90 L347.16,59.85 L347.26,59.81 L347.37,59.77 L347.48,59.74 L347.60,59.71 L347.72,59.68 L347.86,59.66 L347.99,59.64 L348.13,59.63 L348.28,59.63 L348.43,59.63 L348.58,59.63 L348.74,59.64 L348.90,59.66 L349.06,59.68 L349.22,59.71 L349.39,59.75 L349.55,59.79 L349.72,59.83 L349.88,59.89 L350.05,59.95 L350.21,60.01 L350.37,60.08 L350.53,60.16 L350.68,60.24 L350.83,60.33 L350.98,60.42 L351.13,60.52 L351.27,60.62 L351.40,60.73 L351.53,60.85 L351.65,60.97 L351.77,61.09 L351.88,61.22 L351.98,61.35 L352.08,61.48 L352.17,61.62 L352.25,61.76 L352.32,61.91 L352.39,62.05 L352.45,62.20 L352.49,62.35 L352.53,62.50 L352.56,62.66 L352.58,62.81 L352.60,62.97 L352.60,63.12 L352.59,63.28 L352.58,63.43 L352.56,63.59 L352.52,63.74 L352.48,63.89 L352.43,64.04 L352.37,64.19 L352.30,64.34 L352.23,64.48 L352.15,64.62 L352.05,64.76 L351.96,64.89 L351.85,65.02 L351.74,65.15 L351.62,65.27 L351.49,65.39 L351.36,65.50 L351.23,65.61 L351.09,65.71 L350.94,65.81 L350.79,65.90 L350.64,65.98 L350.48,66.06 L350.32,66.14 L350.16,66.21 L350.00,66.27 L349.84,66.33 L349.67,66.38 L349.51,66.43 L349.34,66.46 L349.18,66.50 L349.01,66.52 L348.85,66.55 L348.70,66.56 L348.54,66.57 L348.39,66.57 L348.24,66.57 L348.09,66.56 L347.95,66.55 L347.82,66.54 L347.69,66.51 L347.56,66.49 L347.45,66.45 L347.33,66.42 L347.23,66.38 L347.13,66.34 L347.04,66.29 L346.96,66.24 L346.89,66.19 L346.82,66.13 L346.76,66.07 L346.71,66.02 L346.67,65.95 L346.64,65.89 L346.62,65.83 L346.60,65.76 L346.60,65.70 L346.60,65.64 L346.62,65.57 L346.64,65.51 L346.67,65.45 L346.71,65.38 L346.76,65.33 L346.82,65.27 L346.89,65.21 L346.96,65.16 L347.04,65.11 L347.13,65.06 L347.23,65.02 L347.33,64.98 L347.45,64.95 L347.56,64.91 L347.69,64.89 L347.82,64.86 L347.95,64.85 L348.09,64.84 L348.24,64.83 L348.39,64.83 L348.54,64.83 L348.70,64.84 L348.85,64.85 L349.01,64.88 L349.18,64.90 L349.34,64.94 L349.51,64.97 L349.67,65.02 L349.84,65.07 L350.00,65.13 L350.16,65.19 L350.32,65.26 L350.48,65.34 L350.64,65.42 L350.79,65.50 L350.94,65.59 L351.09,65.69 L351.23,65.79 L351.36,65.90 L351.49,66.01 L351.62,66.13 L351.74,66.25 L351.85,66.38 L351.96,66.51 L352.05,66.64 L352.15,66.78 L352.23,66.92 L352.30,67.06 L352.37,67.21 L352.43,67.36 L352.48,67.51 L352.52,67.66 L352.56,67.81 L352.58,67.97 L352.59,68.12 L352.60,68.28 L352.60,68.43 L352.58,68.59 L352.56,68.74 L352.53,68.90 L352.49,69.05 L352.45,69.20 L352.39,69.35 L352.32,69.49 L352.25,69.64 L352.17,69.78 L352.08,69.92 L351.98,70.05 L351.88,70.18 L351.77,70.31 L351.65,70.43 L351.53,70.55 L351.40,70.67 L351.27,70.78 L351.13,70.88 L350.98,70.98 L350.83,71.07 L350.68,71.16 L350.53,71.24 L350.37,71.32 L350.21,71.39 L350.05,71.45 L349.88,71.51 L349.72,71.57 L349.55,71.61 L349.39,71.65 L349.22,71.69 L349.06,71.72 L348.90,71.74 L348.74,71.76 L348.58,71.77 L348.43,71.77 L348.28,71.77 L348.13,71.77 L347.99,71.76 L347.86,71.74 L347.72,71.72 L347.60,71.69 L347.48,71.66 L347.37,71.63 L347.26,71.59 L347.16,71.55 L347.07,71.50 L346.98,71.45 L346.91,71.40 L346.84,71.35 L346.78,71.29 L346.73,71.23 L346.68,71.17 L346.65,71.11 L346.62,71.05 L346.61,70.98 L346.60,70.92 L346.60,70.85 L346.61,70.79 L346.63,70.73 L346.66,70.66 L346.70,70.60 L346.75,70.54 L346.80,70.48 L346.87,70.43 L346.94,70.37 L347.02,70.32 L347.11,70.28 L347.20,70.23 L347.30,70.19 L347.41,70.15 L347.53,70.12 L347.65,70.09 L347.78,70.07 L347.91,70.05 L348.05,70.04 L348.20,70.03 L348.34,70.03 L348.50,70.03 L348.65,70.04 L348.81,70.05 L348.97,70.07 L349.13,70.09 L349.29,70.13 L349.46,70.16 L349.62,70.21 L349.79,70.26 L349.95,70.31 L350.12,70.37 L350.28,70.44 L350.44,70.51 L350.59,70.59 L350.75,70.68 L350.90,70.77 L351.05,70.86 L351.19,70.96 L351.33,71.07 L351.46,71.18 L351.58,71.30 L351.70,71.42 L351.82,71.54 L351.93,71.67 L352.03,71.80 L352.12,71.94 L352.21,72.08 L352.28,72.22 L352.35,72.37 L352.41,72.52 L352.47,72.66 L352.51,72.82 L352.55,72.97 L352.57,73.12 L352.59,73.28 L352.60,73.43 L352.60,73.59 L352.59,73.74 L352.57,73.90 L352.54,74.05 L352.51,74.21 L352.46,74.36 L352.41,74.51 L352.34,74.65 L352.27,74.80 L352.19,74.94 L352.11,75.08 L352.01,75.21 L351.91,75.35 L351.80,75.48 L351.69,75.60 L351.57,75.72 L351.44,75.83 L351.31,75.94 L351.17,76.05 L351.02,76.15 L350.88,76.25 L350.73,76.34 L350.57,76.42 L350.41,76.50 L350.25,76.57 L350.09,76.64 L349.93,76.70 L349.76,76.75 L349.60,76.80" fill="none" stroke="#1a1a1a" stroke-width="1.05" stroke-linejoin="round" />
<line x1="355.00" y1="56.80" x2="355.00" y2="79.70" stroke="#1a1a1a" stroke-width="1.0" />
<line x1="357.80" y1="56.80" x2="357.80" y2="79.70" stroke="#555" stroke-width="0.8" />
<path d="M364.20,54.60 L364.04,54.65 L363.87,54.70 L363.71,54.76 L363.55,54.83 L363.39,54.90 L363.23,54.98 L363.07,55.06 L362.92,55.15 L362.78,55.25 L362.63,55.35 L362.49,55.46 L362.36,55.57 L362.23,55.68 L362.11,55.80 L362.00,55.92 L361.89,56.05 L361.79,56.19 L361.69,56.32 L361.61,56.46 L361.53,56.60 L361.46,56.75 L361.39,56.89 L361.34,57.04 L361.29,57.19 L361.26,57.35 L361.23,57.50 L361.21,57.66 L361.20,57.81 L361.20,57.97 L361.21,58.12 L361.23,58.28 L361.25,58.43 L361.29,58.58 L361.33,58.74 L361.39,58.88 L361.45,59.03 L361.52,59.18 L361.59,59.32 L361.68,59.46 L361.77,59.60 L361.87,59.73 L361.98,59.86 L362.10,59.98 L362.22,60.10 L362.34,60.22 L362.47,60.33 L362.61,60.44 L362.75,60.54 L362.90,60.63 L363.05,60.72 L363.21,60.81 L363.36,60.89 L363.52,60.96 L363.68,61.03 L363.85,61.09 L364.01,61.14 L364.18,61.19 L364.34,61.24 L364.51,61.27 L364.67,61.31 L364.83,61.33 L364.99,61.35 L365.15,61.36 L365.30,61.37 L365.46,61.37 L365.60,61.37 L365.75,61.36 L365.89,61.35 L366.02,61.33 L366.15,61.31 L366.27,61.28 L366.39,61.25 L366.50,61.21 L366.60,61.17 L366.69,61.12 L366.78,61.08 L366.86,61.03 L366.93,60.97 L367.00,60.92 L367.05,60.86 L367.10,60.80 L367.14,60.74 L367.17,60.67 L367.19,60.61 L367.20,60.55 L367.20,60.48 L367.19,60.42 L367.18,60.35 L367.15,60.29 L367.12,60.23 L367.07,60.17 L367.02,60.11 L366.96,60.05 L366.89,60.00 L366.82,59.95 L366.73,59.90 L366.64,59.85 L366.54,59.81 L366.43,59.77 L366.32,59.74 L366.20,59.71 L366.08,59.68 L365.94,59.66 L365.81,59.64 L365.67,59.63 L365.52,59.63 L365.37,59.63 L365.22,59.63 L365.06,59.64 L364.90,59.66 L364.74,59.68 L364.58,59.71 L364.41,59.75 L364.25,59.79 L364.08,59.83 L363.92,59.89 L363.75,59.95 L363.59,60.01 L363.43,60.08 L363.27,60.16 L363.12,60.24 L362.97,60.33 L362.82,60.42 L362.67,60.52 L362.53,60.62 L362.40,60.73 L362.27,60.85 L362.15,60.97 L362.03,61.09 L361.92,61.22 L361.82,61.35 L361.72,61.48 L361.63,61.62 L361.55,61.76 L361.48,61.91 L361.41,62.05 L361.35,62.20 L361.31,62.35 L361.27,62.50 L361.24,62.66 L361.22,62.81 L361.20,62.97 L361.20,63.12 L361.21,63.28 L361.22,63.43 L361.24,63.59 L361.28,63.74 L361.32,63.89 L361.37,64.04 L361.43,64.19 L361.50,64.34 L361.57,64.48 L361.65,64.62 L361.75,64.76 L361.84,64.89 L361.95,65.02 L362.06,65.15 L362.18,65.27 L362.31,65.39 L362.44,65.50 L362.57,65.61 L362.71,65.71 L362.86,65.81 L363.01,65.90 L363.16,65.98 L363.32,66.06 L363.48,66.14 L363.64,66.21 L363.80,66.27 L363.96,66.33 L364.13,66.38 L364.29,66.43 L364.46,66.46 L364.62,66.50 L364.79,66.52 L364.95,66.55 L365.10,66.56 L365.26,66.57 L365.41,66.57 L365.56,66.57 L365.71,66.56 L365.85,66.55 L365.98,66.54 L366.11,66.51 L366.24,66.49 L366.35,66.45 L366.47,66.42 L366.57,66.38 L366.67,66.34 L366.76,66.29 L366.84,66.24 L366.91,66.19 L366.98,66.13 L367.04,66.07 L367.09,66.02 L367.13,65.95 L367.16,65.89 L367.18,65.83 L367.20,65.76 L367.20,65.70 L367.20,65.64 L367.18,65.57 L367.16,65.51 L367.13,65.45 L367.09,65.38 L367.04,65.33 L366.98,65.27 L366.91,65.21 L366.84,65.16 L366.76,65.11 L366.67,65.06 L366.57,65.02 L366.47,64.98 L366.35,64.95 L366.24,64.91 L366.11,64.89 L365.98,64.86 L365.85,64.85 L365.71,64.84 L365.56,64.83 L365.41,64.83 L365.26,64.83 L365.10,64.84 L364.95,64.85 L364.79,64.88 L364.62,64.90 L364.46,64.94 L364.29,64.97 L364.13,65.02 L363.96,65.07 L363.80,65.13 L363.64,65.19 L363.48,65.26 L363.32,65.34 L363.16,65.42 L363.01,65.50 L362.86,65.59 L362.71,65.69 L362.57,65.79 L362.44,65.90 L362.31,66.01 L362.18,66.13 L362.06,66.25 L361.95,66.38 L361.84,66.51 L361.75,66.64 L361.65,66.78 L361.57,66.92 L361.50,67.06 L361.43,67.21 L361.37,67.36 L361.32,67.51 L361.28,67.66 L361.24,67.81 L361.22,67.97 L361.21,68.12 L361.20,68.28 L361.20,68.43 L361.22,68.59 L361.24,68.74 L361.27,68.90 L361.31,69.05 L361.35,69.20 L361.41,69.35 L361.48,69.49 L361.55,69.64 L361.63,69.78 L361.72,69.92 L361.82,70.05 L361.92,70.18 L362.03,70.31 L362.15,70.43 L362.27,70.55 L362.40,70.67 L362.53,70.78 L362.67,70.88 L362.82,70.98 L362.97,71.07 L363.12,71.16 L363.27,71.24 L363.43,71.32 L363.59,71.39 L363.75,71.45 L363.92,71.51 L364.08,71.57 L364.25,71.61 L364.41,71.65 L364.58,71.69 L364.74,71.72 L364.90,71.74 L365.06,71.76 L365.22,71.77 L365.37,71.77 L365.52,71.77 L365.67,71.77 L365.81,71.76 L365.94,71.74 L366.08,71.72 L366.20,71.69 L366.32,71.66 L366.43,71.63 L366.54,71.59 L366.64,71.55 L366.73,71.50 L366.82,71.45 L366.89,71.40 L366.96,71.35 L367.02,71.29 L367.07,71.23 L367.12,71.17 L367.15,71.11 L367.18,71.05 L367.19,70.98 L367.20,70.92 L367.20,70.85 L367.19,70.79 L367.17,70.73 L367.14,70.66 L367.10,70.60 L367.05,70.54 L367.00,70.48 L366.93,70.43 L366.86,70.37 L366.78,70.32 L366.69,70.28 L366.60,70.23 L366.50,70.19 L366.39,70.15 L366.27,70.12 L366.15,70.09 L366.02,70.07 L365.89,70.05 L365.75,70.04 L365.60,70.03 L365.46,70.03 L365.30,70.03 L365.15,70.04 L364.99,70.05 L364.83,70.07 L364.67,70.09 L364.51,70.13 L364.34,70.16 L364.18,70.21 L364.01,70.26 L363.85,70.31 L363.68,70.37 L363.52,70.44 L363.36,70.51 L363.21,70.59 L363.05,70.68 L362.90,70.77 L362.75,70.86 L362.61,70.96 L362.47,71.07 L362.34,71.18 L362.22,71.30 L362.10,71.42 L361.98,71.54 L361.87,71.67 L361.77,71.80 L361.68,71.94 L361.59,72.08 L361.52,72.22 L361.45,72.37 L361.39,72.52 L361.33,72.66 L361.29,72.82 L361.25,72.97 L361.23,73.12 L361.21,73.28 L361.20,73.43 L361.20,73.59 L361.21,73.74 L361.23,73.90 L361.26,74.05 L361.29,74.21 L361.34,74.36 L361.39,74.51 L361.46,74.65 L361.53,74.80 L361.61,74.94 L361.69,75.08 L361.79,75.21 L361.89,75.35 L362.00,75.48 L362.11,75.60 L362.23,75.72 L362.36,75.83 L362.49,75.94 L362.63,76.05 L362.78,76.15 L362.92,76.25 L363.07,76.34 L363.23,76.42 L363.39,76.50 L363.55,76.57 L363.71,76.64 L363.87,76.70 L364.04,76.75 L364.20,76.80" fill="none" stroke="#1a1a1a" stroke-width="1.05" stroke-linejoin="round" />
<line x1="364.20" y1="49.10" x2="364.20" y2="54.60" stroke="#1a1a1a" stroke-width="0.95" />
<line x1="364.20" y1="76.80" x2="364.20" y2="83.80" stroke="#1a1a1a" stroke-width="0.95" />
<line x1="364.20" y1="49.10" x2="383.00" y2="49.10" stroke="#1a1a1a" stroke-width="0.95" />
<line x1="364.20" y1="83.80" x2="383.00" y2="83.80" stroke="#1a1a1a" stroke-width="0.95" />
<text x="356.40" y="92.60" font-size="6.7" font-weight="normal" fill="#333" text-anchor="middle" >A:1</text>
<rect x="382.5" y="46.3" width="40.2" height="40.3" fill="#98ec3c" stroke="#5cd030" stroke-width="0.6"/>
<path d="M385.5,46.3 L382.5,46.3 L382.5,49.3" fill="none" stroke="#3aa82a" stroke-width="0.9"/>
<path d="M419.7,46.3 L422.7,46.3 L422.7,49.3" fill="none" stroke="#3aa82a" stroke-width="0.9"/>
<path d="M385.5,86.6 L382.5,86.6 L382.5,83.6" fill="none" stroke="#3aa82a" stroke-width="0.9"/>
<path d="M419.7,86.6 L422.7,86.6 L422.7,83.6" fill="none" stroke="#3aa82a" stroke-width="0.9"/>
<text x="402.20" y="54.20" font-size="5.2" font-weight="bold" fill="#222" text-anchor="middle" >self</text>
<path d="M402.4,56.6 L402.4,61.2 M401.3,58 L402.4,56.6 L403.5,58 M401.3,59.8 L402.4,61.2 L403.5,59.8" fill="none" stroke="#222" stroke-width="0.7"/>
<text x="401.60" y="67.60" font-size="6" font-weight="normal" fill="#222" text-anchor="middle" >Z</text>
<text x="403.60" y="69.00" font-size="3.8" font-weight="normal" fill="#222" text-anchor="start" >ij</text>
<text x="386.80" y="80.50" font-size="5.6" font-weight="normal" fill="#222" text-anchor="start" >Zjk</text>
<path d="M396.6,78.9 L400.4,78.9 M397.6,78.1 L396.6,78.9 L397.6,79.7" fill="none" stroke="#222" stroke-width="0.8"/>
<text x="401.60" y="80.50" font-size="5.6" font-weight="normal" fill="#222" text-anchor="start" >mutual</text>
<text x="208.2" y="109.1" fill="#151515"><tspan font-size="7.3" dy="0" font-weight="bold">C</tspan><tspan font-size="4.4" dy="1.3" font-weight="normal">0</tspan><tspan font-size="7.3" dy="-1.3" font-weight="bold">, shunt capacitance</tspan></text>
<text x="208.2" y="119.1" fill="#151515"><tspan font-size="7.3" dy="0" font-weight="bold">C</tspan><tspan font-size="4.2" dy="1.3" font-weight="normal">m</tspan><tspan font-size="7.3" dy="-1.3" font-weight="bold">, mechanical compliance</tspan></text>
<text x="208.2" y="128.7" fill="#151515"><tspan font-size="7.3" dy="0" font-weight="bold">K</tspan><tspan font-size="4.2" dy="1.3" font-weight="normal">m</tspan><tspan font-size="7.3" dy="-1.3" font-weight="bold">, mechanical stiffness</tspan></text>
<text x="208.2" y="138.8" fill="#151515"><tspan font-size="7.3" dy="0" font-weight="bold">L</tspan><tspan font-size="4.2" dy="1.3" font-weight="normal">m</tspan><tspan font-size="7.3" dy="-1.3" font-weight="bold">/M</tspan><tspan font-size="4.2" dy="1.3" font-weight="normal">m</tspan><tspan font-size="7.3" dy="-1.3" font-weight="bold">, mechanical inductance</tspan></text>
<text x="317.7" y="109.1" fill="#151515" font-size="7.3" font-weight="bold"><tspan font-style="italic">i</tspan>, out of plane current</text>
<text x="317.7" y="119.1" fill="#151515" font-size="7.3" font-weight="bold"><tspan font-style="italic">u</tspan>, out of plane velocity</text>
<text x="317.7" y="128.7" fill="#151515" font-size="7.3" font-weight="bold">η, electromechanical transformation ratio</text>
<text x="317.7" y="138.8" fill="#151515" font-size="7.3" font-weight="bold">A, effective surface area</text>
<text x="203.40" y="185.00" font-size="14.8" font-weight="bold" fill="#000" text-anchor="start" >d</text>
<line x1="262.63" y1="177.90" x2="262.63" y2="307.40" stroke="#b4b4b4" stroke-width="0.6" />
<line x1="280.50" y1="177.90" x2="280.50" y2="307.40" stroke="#b4b4b4" stroke-width="0.6" />
<line x1="298.38" y1="177.90" x2="298.38" y2="307.40" stroke="#b4b4b4" stroke-width="0.6" />
<line x1="271.57" y1="177.90" x2="271.57" y2="307.40" stroke="#dcdcdc" stroke-width="0.5" stroke-dasharray="1.5 1.5"/>
<line x1="289.44" y1="177.90" x2="289.44" y2="307.40" stroke="#dcdcdc" stroke-width="0.5" stroke-dasharray="1.5 1.5"/>
<line x1="316.33" y1="177.90" x2="316.33" y2="307.40" stroke="#b4b4b4" stroke-width="0.6" />
<line x1="334.20" y1="177.90" x2="334.20" y2="307.40" stroke="#b4b4b4" stroke-width="0.6" />
<line x1="352.07" y1="177.90" x2="352.07" y2="307.40" stroke="#b4b4b4" stroke-width="0.6" />
<line x1="325.27" y1="177.90" x2="325.27" y2="307.40" stroke="#dcdcdc" stroke-width="0.5" stroke-dasharray="1.5 1.5"/>
<line x1="343.14" y1="177.90" x2="343.14" y2="307.40" stroke="#dcdcdc" stroke-width="0.5" stroke-dasharray="1.5 1.5"/>
<line x1="369.94" y1="177.90" x2="369.94" y2="307.40" stroke="#b4b4b4" stroke-width="0.6" />
<line x1="387.81" y1="177.90" x2="387.81" y2="307.40" stroke="#b4b4b4" stroke-width="0.6" />
<line x1="405.68" y1="177.90" x2="405.68" y2="307.40" stroke="#b4b4b4" stroke-width="0.6" />
<line x1="378.87" y1="177.90" x2="378.87" y2="307.40" stroke="#dcdcdc" stroke-width="0.5" stroke-dasharray="1.5 1.5"/>
<line x1="396.74" y1="177.90" x2="396.74" y2="307.40" stroke="#dcdcdc" stroke-width="0.5" stroke-dasharray="1.5 1.5"/>
<line x1="253.70" y1="292.60" x2="414.50" y2="292.60" stroke="#c0c0c0" stroke-width="0.7" />
<line x1="253.70" y1="264.02" x2="414.50" y2="264.02" stroke="#c0c0c0" stroke-width="0.7" />
<line x1="253.70" y1="235.44" x2="414.50" y2="235.44" stroke="#c0c0c0" stroke-width="0.7" />
<line x1="253.70" y1="206.86" x2="414.50" y2="206.86" stroke="#c0c0c0" stroke-width="0.7" />
<line x1="253.70" y1="278.31" x2="414.50" y2="278.31" stroke="#dcdcdc" stroke-width="0.5" stroke-dasharray="1.5 1.5"/>
<line x1="253.70" y1="249.73" x2="414.50" y2="249.73" stroke="#dcdcdc" stroke-width="0.5" stroke-dasharray="1.5 1.5"/>
<line x1="253.70" y1="221.15" x2="414.50" y2="221.15" stroke="#dcdcdc" stroke-width="0.5" stroke-dasharray="1.5 1.5"/>
<line x1="253.70" y1="192.57" x2="414.50" y2="192.57" stroke="#dcdcdc" stroke-width="0.5" stroke-dasharray="1.5 1.5"/>
<rect x="263.3" y="183.2" width="59.1" height="17.4" fill="#fff" stroke="#8a8a8a" stroke-width="0.6"/>
<line x1="264.30" y1="187.90" x2="279.90" y2="187.90" stroke="#86c986" stroke-width="1.8" />
<line x1="264.30" y1="196.40" x2="279.90" y2="196.40" stroke="#3a9a3a" stroke-width="0.9" stroke-dasharray="2.6 1 0.9 1"/>
<text x="283.30" y="190.00" font-size="5.8" font-weight="normal" fill="#333" text-anchor="start" >FEM-velocity</text>
<text x="283.30" y="198.50" font-size="5.8" font-weight="normal" fill="#333" text-anchor="start" >ECM-velocity</text>
<path d="M253.70,288.62 L256.59,287.83 L258.99,286.88 L260.99,285.75 L262.67,284.39 L264.06,282.78 L265.24,280.82 L266.24,278.45 L267.07,275.65 L268.28,268.83 L269.18,259.37 L269.85,246.61 L270.75,221.58 L271.03,218.29 L272.11,252.10 L272.86,266.06 L273.43,271.83 L274.11,276.17 L274.97,279.63 L276.04,282.35 L277.47,284.60 L279.25,286.32 L281.58,287.70 L284.54,288.77 L288.33,289.61 L293.19,290.26 L307.31,291.17" fill="none" stroke="#2e9a2e" stroke-width="0.8" stroke-linejoin="round" stroke-dasharray="2.6 1 0.9 1"/>
<path d="M253.70,292.77 L264.10,292.48 L267.03,292.20 L269.10,291.78 L270.64,291.14 L271.82,290.20 L272.71,288.89 L273.43,287.02 L274.00,284.43 L274.46,280.92 L275.18,270.00 L276.57,214.29 L278.04,271.58 L278.83,282.19 L279.36,285.56 L280.08,288.08 L280.90,289.67 L282.01,290.82 L283.47,291.59 L285.47,292.10 L292.16,292.63 L307.31,292.82" fill="none" stroke="#2a9a2a" stroke-width="1.15" stroke-linejoin="round" />
<path d="M307.40,287.45 L310.19,286.44 L312.55,285.21 L314.51,283.75 L316.16,282.01 L317.51,279.94 L318.66,277.47 L319.62,274.51 L320.45,270.91 L321.66,262.07 L322.55,249.76 L323.20,234.23 L324.09,202.46 L324.38,198.29 L325.45,241.20 L326.20,258.92 L326.77,266.24 L327.45,271.74 L328.31,276.14 L329.42,279.68 L330.85,282.50 L332.70,284.73 L335.03,286.44 L338.03,287.79 L341.85,288.84 L346.75,289.66 L353.00,290.30 L361.01,290.81" fill="none" stroke="#2e9a2e" stroke-width="0.8" stroke-linejoin="round" stroke-dasharray="2.6 1 0.9 1"/>
<path d="M307.40,292.74 L317.98,292.39 L320.95,292.03 L323.05,291.50 L324.66,290.67 L325.84,289.49 L326.74,287.84 L327.45,285.51 L328.06,282.03 L328.52,277.53 L329.24,263.50 L330.63,192.00 L332.10,265.54 L332.88,279.16 L333.42,283.49 L334.13,286.72 L334.96,288.76 L336.06,290.23 L337.49,291.20 L339.49,291.87 L342.21,292.29 L346.11,292.55 L361.01,292.80" fill="none" stroke="#2a9a2a" stroke-width="1.15" stroke-linejoin="round" />
<path d="M361.00,288.51 L363.75,287.71 L366.08,286.75 L368.01,285.61 L369.65,284.21 L371.01,282.56 L372.15,280.58 L373.12,278.19 L373.90,275.43 L375.08,268.64 L375.98,258.98 L376.62,246.79 L377.51,221.85 L377.80,218.58 L378.87,252.26 L379.62,266.16 L380.19,271.91 L380.87,276.23 L381.73,279.68 L382.84,282.46 L384.27,284.67 L386.13,286.43 L388.45,287.77 L391.45,288.83 L395.27,289.65 L400.21,290.30 L414.61,291.20" fill="none" stroke="#2e9a2e" stroke-width="0.8" stroke-linejoin="round" stroke-dasharray="2.6 1 0.9 1"/>
<path d="M361.00,292.76 L371.26,292.47 L374.15,292.19 L376.23,291.76 L377.76,291.11 L378.94,290.15 L379.83,288.82 L380.55,286.91 L381.12,284.28 L381.59,280.70 L382.30,269.58 L383.69,212.86 L385.16,271.20 L385.95,282.00 L386.48,285.43 L387.20,288.00 L388.02,289.61 L389.13,290.78 L390.59,291.57 L392.63,292.09 L399.35,292.63 L414.61,292.82" fill="none" stroke="#2a9a2a" stroke-width="1.15" stroke-linejoin="round" />
<line x1="307.40" y1="177.90" x2="307.40" y2="307.40" stroke="#111" stroke-width="0.9" />
<line x1="361.00" y1="177.90" x2="361.00" y2="307.40" stroke="#666" stroke-width="1.3" />
<rect x="253.7" y="177.9" width="160.8" height="129.49999999999997" fill="none" stroke="#111" stroke-width="0.9"/>
<line x1="253.70" y1="177.90" x2="414.50" y2="177.90" stroke="#444" stroke-width="1.4" />
<line x1="262.63" y1="307.40" x2="262.63" y2="305.20" stroke="#111" stroke-width="0.8" />
<line x1="262.63" y1="177.90" x2="262.63" y2="180.10" stroke="#111" stroke-width="0.8" />
<line x1="280.50" y1="307.40" x2="280.50" y2="305.20" stroke="#111" stroke-width="0.8" />
<line x1="280.50" y1="177.90" x2="280.50" y2="180.10" stroke="#111" stroke-width="0.8" />
<line x1="298.38" y1="307.40" x2="298.38" y2="305.20" stroke="#111" stroke-width="0.8" />
<line x1="298.38" y1="177.90" x2="298.38" y2="180.10" stroke="#111" stroke-width="0.8" />
<line x1="271.57" y1="307.40" x2="271.57" y2="306.10" stroke="#111" stroke-width="0.7" />
<line x1="271.57" y1="177.90" x2="271.57" y2="179.20" stroke="#111" stroke-width="0.7" />
<line x1="289.44" y1="307.40" x2="289.44" y2="306.10" stroke="#111" stroke-width="0.7" />
<line x1="289.44" y1="177.90" x2="289.44" y2="179.20" stroke="#111" stroke-width="0.7" />
<line x1="316.33" y1="307.40" x2="316.33" y2="305.20" stroke="#111" stroke-width="0.8" />
<line x1="316.33" y1="177.90" x2="316.33" y2="180.10" stroke="#111" stroke-width="0.8" />
<line x1="334.20" y1="307.40" x2="334.20" y2="305.20" stroke="#111" stroke-width="0.8" />
<line x1="334.20" y1="177.90" x2="334.20" y2="180.10" stroke="#111" stroke-width="0.8" />
<line x1="352.07" y1="307.40" x2="352.07" y2="305.20" stroke="#111" stroke-width="0.8" />
<line x1="352.07" y1="177.90" x2="352.07" y2="180.10" stroke="#111" stroke-width="0.8" />
<line x1="325.27" y1="307.40" x2="325.27" y2="306.10" stroke="#111" stroke-width="0.7" />
<line x1="325.27" y1="177.90" x2="325.27" y2="179.20" stroke="#111" stroke-width="0.7" />
<line x1="343.14" y1="307.40" x2="343.14" y2="306.10" stroke="#111" stroke-width="0.7" />
<line x1="343.14" y1="177.90" x2="343.14" y2="179.20" stroke="#111" stroke-width="0.7" />
<line x1="369.94" y1="307.40" x2="369.94" y2="305.20" stroke="#111" stroke-width="0.8" />
<line x1="369.94" y1="177.90" x2="369.94" y2="180.10" stroke="#111" stroke-width="0.8" />
<line x1="387.81" y1="307.40" x2="387.81" y2="305.20" stroke="#111" stroke-width="0.8" />
<line x1="387.81" y1="177.90" x2="387.81" y2="180.10" stroke="#111" stroke-width="0.8" />
<line x1="405.68" y1="307.40" x2="405.68" y2="305.20" stroke="#111" stroke-width="0.8" />
<line x1="405.68" y1="177.90" x2="405.68" y2="180.10" stroke="#111" stroke-width="0.8" />
<line x1="378.87" y1="307.40" x2="378.87" y2="306.10" stroke="#111" stroke-width="0.7" />
<line x1="378.87" y1="177.90" x2="378.87" y2="179.20" stroke="#111" stroke-width="0.7" />
<line x1="396.74" y1="307.40" x2="396.74" y2="306.10" stroke="#111" stroke-width="0.7" />
<line x1="396.74" y1="177.90" x2="396.74" y2="179.20" stroke="#111" stroke-width="0.7" />
<line x1="253.70" y1="292.60" x2="255.90" y2="292.60" stroke="#111" stroke-width="0.8" />
<line x1="414.50" y1="292.60" x2="412.30" y2="292.60" stroke="#111" stroke-width="0.8" />
<line x1="253.70" y1="264.02" x2="255.90" y2="264.02" stroke="#111" stroke-width="0.8" />
<line x1="414.50" y1="264.02" x2="412.30" y2="264.02" stroke="#111" stroke-width="0.8" />
<line x1="253.70" y1="235.44" x2="255.90" y2="235.44" stroke="#111" stroke-width="0.8" />
<line x1="414.50" y1="235.44" x2="412.30" y2="235.44" stroke="#111" stroke-width="0.8" />
<line x1="253.70" y1="206.86" x2="255.90" y2="206.86" stroke="#111" stroke-width="0.8" />
<line x1="414.50" y1="206.86" x2="412.30" y2="206.86" stroke="#111" stroke-width="0.8" />
<line x1="253.70" y1="306.89" x2="255.00" y2="306.89" stroke="#111" stroke-width="0.7" />
<line x1="414.50" y1="306.89" x2="413.20" y2="306.89" stroke="#111" stroke-width="0.7" />
<line x1="253.70" y1="278.31" x2="255.00" y2="278.31" stroke="#111" stroke-width="0.7" />
<line x1="414.50" y1="278.31" x2="413.20" y2="278.31" stroke="#111" stroke-width="0.7" />
<line x1="253.70" y1="249.73" x2="255.00" y2="249.73" stroke="#111" stroke-width="0.7" />
<line x1="414.50" y1="249.73" x2="413.20" y2="249.73" stroke="#111" stroke-width="0.7" />
<line x1="253.70" y1="221.15" x2="255.00" y2="221.15" stroke="#111" stroke-width="0.7" />
<line x1="414.50" y1="221.15" x2="413.20" y2="221.15" stroke="#111" stroke-width="0.7" />
<line x1="253.70" y1="192.57" x2="255.00" y2="192.57" stroke="#111" stroke-width="0.7" />
<line x1="414.50" y1="192.57" x2="413.20" y2="192.57" stroke="#111" stroke-width="0.7" />
<text x="250.00" y="295.10" font-size="6.9" font-weight="bold" fill="#111" text-anchor="end" >0</text>
<text x="250.00" y="266.52" font-size="6.9" font-weight="bold" fill="#111" text-anchor="end" >10</text>
<text x="250.00" y="237.94" font-size="6.9" font-weight="bold" fill="#111" text-anchor="end" >20</text>
<text x="250.00" y="209.36" font-size="6.9" font-weight="bold" fill="#111" text-anchor="end" >30</text>
<text x="250.00" y="180.78" font-size="6.9" font-weight="bold" fill="#111" text-anchor="end" >40</text>
<text x="262.63" y="317.10" font-size="6.9" font-weight="bold" fill="#111" text-anchor="middle" >325</text>
<text x="280.50" y="317.10" font-size="6.9" font-weight="bold" fill="#111" text-anchor="middle" >335</text>
<text x="298.38" y="317.10" font-size="6.9" font-weight="bold" fill="#111" text-anchor="middle" >345</text>
<text x="316.33" y="317.10" font-size="6.9" font-weight="bold" fill="#111" text-anchor="middle" >325</text>
<text x="334.20" y="317.10" font-size="6.9" font-weight="bold" fill="#111" text-anchor="middle" >335</text>
<text x="352.07" y="317.10" font-size="6.9" font-weight="bold" fill="#111" text-anchor="middle" >345</text>
<text x="369.94" y="317.10" font-size="6.9" font-weight="bold" fill="#111" text-anchor="middle" >325</text>
<text x="387.81" y="317.10" font-size="6.9" font-weight="bold" fill="#111" text-anchor="middle" >335</text>
<text x="405.68" y="317.10" font-size="6.9" font-weight="bold" fill="#111" text-anchor="middle" >345</text>
<text x="334.90" y="326.80" font-size="7.2" font-weight="bold" fill="#111" text-anchor="middle" >Frequency(kHz)</text>
<text x="0" y="0" font-size="7.4" font-weight="bold" fill="#111" text-anchor="middle" transform="translate(235.0,242.2) rotate(-90)">Velocity(m/s)</text>
<path d="M281.9,246.2 L294.9,256.3 L294.9,257.90000000000003 L281.9,247.32 Z" fill="#d2ae76"/>
<path d="M294.9,256.3 L304.7,252.2 L304.7,253.48 L294.9,257.90000000000003 Z" fill="#b48e58"/>
<path d="M281.9,246.2 L285.5,244.2 L304.7,252.2 L294.9,256.3 Z" fill="#7c9e22"/>
<ellipse cx="286.6" cy="245.5" rx="2.5999999999999996" ry="1.45" fill="#c9a070"/>
<ellipse cx="286.6" cy="245.64999999999998" rx="2.3" ry="1.15" fill="#d06c14"/>
<ellipse cx="286.6" cy="245.2" rx="2.3" ry="1.15" fill="#f0881e"/>
<ellipse cx="291.2" cy="247.9" rx="3.1999999999999997" ry="1.75" fill="#c9a070"/>
<ellipse cx="291.2" cy="248.04999999999998" rx="2.9" ry="1.45" fill="#d06c14"/>
<ellipse cx="291.2" cy="247.6" rx="2.9" ry="1.45" fill="#f0881e"/>
<ellipse cx="296.7" cy="250.70000000000002" rx="3.9" ry="2.05" fill="#c9a070"/>
<ellipse cx="296.7" cy="250.85" rx="3.6" ry="1.75" fill="#d06c14"/>
<ellipse cx="296.7" cy="250.4" rx="3.6" ry="1.75" fill="#f0881e"/>
<line x1="286.70" y1="233.40" x2="286.70" y2="242.80" stroke="#111" stroke-width="1.1" />
<path d="M285.10,242.20 L286.70,245.00 L288.30,242.20 Z" fill="#111"/>
<text x="293.70" y="229.60" font-size="5.75" font-weight="bold" fill="#111" text-anchor="middle" >bilateral</text>
<path d="M336.1,228.2 L349.6,238.7 L349.6,240.29999999999998 L336.1,229.32 Z" fill="#d2ae76"/>
<path d="M349.6,238.7 L358.5,233.9 L358.5,235.18 L349.6,240.29999999999998 Z" fill="#b48e58"/>
<path d="M336.1,228.2 L339.3,226.5 L358.5,233.9 L349.6,238.7 Z" fill="#7c9e22"/>
<ellipse cx="341.0" cy="227.8" rx="2.4" ry="1.35" fill="#c9a070"/>
<ellipse cx="341.0" cy="227.95" rx="2.1" ry="1.05" fill="#d06c14"/>
<ellipse cx="341.0" cy="227.5" rx="2.1" ry="1.05" fill="#f0881e"/>
<ellipse cx="345.2" cy="230.0" rx="3.1999999999999997" ry="1.7" fill="#c9a070"/>
<ellipse cx="345.2" cy="230.14999999999998" rx="2.9" ry="1.4" fill="#d06c14"/>
<ellipse cx="345.2" cy="229.7" rx="2.9" ry="1.4" fill="#f0881e"/>
<ellipse cx="351.1" cy="233.10000000000002" rx="3.8" ry="2.0" fill="#c9a070"/>
<ellipse cx="351.1" cy="233.25" rx="3.5" ry="1.7" fill="#d06c14"/>
<ellipse cx="351.1" cy="232.8" rx="3.5" ry="1.7" fill="#f0881e"/>
<line x1="345.20" y1="218.20" x2="345.20" y2="226.80" stroke="#111" stroke-width="1.1" />
<path d="M343.60,226.20 L345.20,229.00 L346.80,226.20 Z" fill="#111"/>
<text x="346.00" y="214.30" font-size="5.7" font-weight="bold" fill="#111" text-anchor="middle" >centric</text>
<path d="M389.0,245.5 L402.1,256.4 L402.1,258.0 L389.0,246.62 Z" fill="#d2ae76"/>
<path d="M402.1,256.4 L411.0,251.5 L411.0,252.78 L402.1,258.0 Z" fill="#b48e58"/>
<path d="M389.0,245.5 L392.1,244.0 L411.0,251.5 L402.1,256.4 Z" fill="#7c9e22"/>
<ellipse cx="393.6" cy="245.20000000000002" rx="2.5" ry="1.4000000000000001" fill="#c9a070"/>
<ellipse cx="393.6" cy="245.35" rx="2.2" ry="1.1" fill="#d06c14"/>
<ellipse cx="393.6" cy="244.9" rx="2.2" ry="1.1" fill="#f0881e"/>
<ellipse cx="398.1" cy="247.60000000000002" rx="3.0999999999999996" ry="1.7" fill="#c9a070"/>
<ellipse cx="398.1" cy="247.75" rx="2.8" ry="1.4" fill="#d06c14"/>
<ellipse cx="398.1" cy="247.3" rx="2.8" ry="1.4" fill="#f0881e"/>
<ellipse cx="403.4" cy="250.70000000000002" rx="3.6999999999999997" ry="2.0" fill="#c9a070"/>
<ellipse cx="403.4" cy="250.85" rx="3.4" ry="1.7" fill="#d06c14"/>
<ellipse cx="403.4" cy="250.4" rx="3.4" ry="1.7" fill="#f0881e"/>
<line x1="403.60" y1="239.00" x2="403.60" y2="248.40" stroke="#111" stroke-width="1.1" />
<path d="M402.00,247.80 L403.60,250.60 L405.20,247.80 Z" fill="#111"/>
<text x="400.30" y="229.30" font-size="5.75" font-weight="bold" fill="#111" text-anchor="middle" >bilateral</text>
<text x="462.90" y="21.00" font-size="14.8" font-weight="bold" fill="#000" text-anchor="start" >e</text>
<line x1="527.54" y1="17.00" x2="527.54" y2="146.35" stroke="#a0a0a0" stroke-width="0.5" />
<line x1="567.52" y1="17.00" x2="567.52" y2="146.35" stroke="#c4c4c4" stroke-width="0.5" />
<line x1="607.51" y1="17.00" x2="607.51" y2="146.35" stroke="#a0a0a0" stroke-width="0.5" />
<line x1="507.54" y1="17.00" x2="507.54" y2="146.35" stroke="#e4e4e4" stroke-width="0.5" stroke-dasharray="2 1"/>
<line x1="547.53" y1="17.00" x2="547.53" y2="146.35" stroke="#e4e4e4" stroke-width="0.5" stroke-dasharray="2 1"/>
<line x1="587.52" y1="17.00" x2="587.52" y2="146.35" stroke="#e4e4e4" stroke-width="0.5" stroke-dasharray="2 1"/>
<line x1="487.55" y1="38.40" x2="647.50" y2="38.40" stroke="#c0c0c0" stroke-width="0.55" />
<line x1="487.55" y1="59.97" x2="647.50" y2="59.97" stroke="#c0c0c0" stroke-width="0.55" />
<line x1="487.55" y1="81.53" x2="647.50" y2="81.53" stroke="#c0c0c0" stroke-width="0.55" />
<line x1="487.55" y1="103.09" x2="647.50" y2="103.09" stroke="#c0c0c0" stroke-width="0.55" />
<line x1="487.55" y1="124.66" x2="647.50" y2="124.66" stroke="#c0c0c0" stroke-width="0.55" />
<line x1="487.55" y1="27.62" x2="647.50" y2="27.62" stroke="#e2e2e2" stroke-width="0.5" stroke-dasharray="2.5 1"/>
<line x1="487.55" y1="49.18" x2="647.50" y2="49.18" stroke="#e2e2e2" stroke-width="0.5" stroke-dasharray="2.5 1"/>
<line x1="487.55" y1="70.75" x2="647.50" y2="70.75" stroke="#e2e2e2" stroke-width="0.5" stroke-dasharray="2.5 1"/>
<line x1="487.55" y1="92.31" x2="647.50" y2="92.31" stroke="#e2e2e2" stroke-width="0.5" stroke-dasharray="2.5 1"/>
<line x1="487.55" y1="113.88" x2="647.50" y2="113.88" stroke="#e2e2e2" stroke-width="0.5" stroke-dasharray="2.5 1"/>
<line x1="487.55" y1="135.44" x2="647.50" y2="135.44" stroke="#e2e2e2" stroke-width="0.5" stroke-dasharray="2.5 1"/>
<rect x="508.3" y="29.1" width="51.4" height="34.0" fill="#fff" stroke="#8a8a8a" stroke-width="0.6"/>
<line x1="508.70" y1="33.50" x2="524.50" y2="33.50" stroke="#ff2020" stroke-width="1.1" />
<text x="527.70" y="35.50" font-size="5.7" font-weight="normal" fill="#333" text-anchor="start" >FEM-|Z|</text>
<line x1="508.70" y1="41.90" x2="524.50" y2="41.90" stroke="#ff7070" stroke-width="1.0" stroke-dasharray="2.6 1 0.9 1"/>
<text x="527.70" y="43.90" font-size="5.7" font-weight="normal" fill="#333" text-anchor="start" >ECM-|Z|</text>
<line x1="508.70" y1="50.10" x2="524.50" y2="50.10" stroke="#8c96ff" stroke-width="1.0" />
<text x="527.70" y="52.10" font-size="5.7" font-weight="normal" fill="#333" text-anchor="start" >FEM-phase</text>
<line x1="508.70" y1="58.40" x2="524.50" y2="58.40" stroke="#b0b8ff" stroke-width="0.9" stroke-dasharray="2.6 1 0.9 1"/>
<text x="527.70" y="60.40" font-size="5.7" font-weight="normal" fill="#333" text-anchor="start" >ECM-phase</text>
<path d="M487.55,113.85 L564.65,113.84 L567.49,113.71 L568.93,113.23 L569.86,112.25 L570.56,110.62 L571.14,108.21 L571.68,104.60 L572.52,95.80 L574.27,70.90 L575.30,61.97 L575.91,59.18 L576.61,57.39 L577.51,56.35 L578.69,55.96 L579.62,56.28 L580.26,57.21 L580.77,58.98 L581.18,61.71 L581.89,70.72 L583.65,104.86 L584.42,110.81 L584.90,112.37 L585.54,113.30 L586.53,113.73 L588.48,113.84 L647.50,113.85" fill="none" stroke="#aab4ff" stroke-width="0.8" stroke-linejoin="round" stroke-dasharray="2.6 1 0.9 1"/>
<path d="M487.55,113.85 L569.96,113.84 L572.64,113.74 L573.99,113.33 L574.85,112.48 L575.52,111.00 L576.07,108.78 L576.58,105.39 L577.38,96.73 L579.07,72.05 L580.10,63.26 L580.74,60.52 L581.54,58.72 L582.69,57.55 L584.13,57.04 L584.90,57.34 L585.41,58.24 L585.89,60.08 L586.30,62.92 L587.01,71.81 L588.80,104.71 L589.60,110.73 L590.08,112.28 L590.72,113.23 L591.74,113.71 L593.69,113.84 L647.50,113.85" fill="none" stroke="#8c96ff" stroke-width="1.0" stroke-linejoin="round" />
<path d="M487.55,116.52 L535.60,117.85 L548.94,118.42 L558.54,119.06 L565.54,119.85 L570.63,120.87 L574.08,122.11 L575.75,123.04 L577.44,124.35 L577.83,124.29 L578.69,123.19 L579.52,121.67 L580.80,117.86 L581.73,112.70 L582.43,105.41 L583.26,85.53 L584.19,35.33 L585.12,75.56 L585.95,92.73 L586.62,99.11 L587.49,103.76 L588.64,107.27 L590.14,109.86 L592.22,111.89 L594.97,113.39 L598.72,114.55 L603.71,115.43 L610.42,116.12 L619.44,116.69 L647.50,117.59" fill="none" stroke="#ff2a2a" stroke-width="1.2" stroke-linejoin="round" stroke-dasharray="3 1.2 1 1.2"/>
<path d="M487.55,116.46 L535.28,117.84 L548.94,118.44 L558.92,119.11 L566.34,119.93 L571.84,120.96 L575.62,122.19 L577.44,123.10 L579.30,124.33 L579.75,124.32 L580.64,123.41 L581.60,122.01 L583.10,118.59 L584.22,114.03 L585.06,108.09 L586.11,92.27 L587.13,58.03 L587.42,53.14 L587.71,56.65 L588.77,83.31 L589.79,95.66 L590.59,100.66 L591.61,104.54 L592.93,107.53 L594.59,109.82 L596.80,111.65 L599.67,113.07 L603.42,114.18 L608.31,115.06 L614.68,115.77 L622.93,116.35 L647.50,117.28" fill="none" stroke="#ff0a0a" stroke-width="1.5" stroke-linejoin="round" />
<line x1="487.55" y1="17.00" x2="647.50" y2="17.00" stroke="#707070" stroke-width="1.3" />
<line x1="487.55" y1="146.35" x2="647.50" y2="146.35" stroke="#222" stroke-width="1.0" />
<line x1="487.55" y1="16.50" x2="487.55" y2="146.85" stroke="#ff1a1a" stroke-width="1.0" />
<line x1="647.50" y1="16.50" x2="647.50" y2="146.85" stroke="#3030ff" stroke-width="1.0" />
<line x1="487.55" y1="146.35" x2="487.55" y2="144.35" stroke="#222" stroke-width="0.8" />
<line x1="487.55" y1="17.00" x2="487.55" y2="19.00" stroke="#222" stroke-width="0.8" />
<line x1="527.54" y1="146.35" x2="527.54" y2="144.35" stroke="#222" stroke-width="0.8" />
<line x1="527.54" y1="17.00" x2="527.54" y2="19.00" stroke="#222" stroke-width="0.8" />
<line x1="567.52" y1="146.35" x2="567.52" y2="144.35" stroke="#222" stroke-width="0.8" />
<line x1="567.52" y1="17.00" x2="567.52" y2="19.00" stroke="#222" stroke-width="0.8" />
<line x1="607.51" y1="146.35" x2="607.51" y2="144.35" stroke="#222" stroke-width="0.8" />
<line x1="607.51" y1="17.00" x2="607.51" y2="19.00" stroke="#222" stroke-width="0.8" />
<line x1="647.50" y1="146.35" x2="647.50" y2="144.35" stroke="#222" stroke-width="0.8" />
<line x1="647.50" y1="17.00" x2="647.50" y2="19.00" stroke="#222" stroke-width="0.8" />
<line x1="507.54" y1="146.35" x2="507.54" y2="145.15" stroke="#222" stroke-width="0.7" />
<line x1="507.54" y1="17.00" x2="507.54" y2="18.20" stroke="#222" stroke-width="0.7" />
<line x1="547.53" y1="146.35" x2="547.53" y2="145.15" stroke="#222" stroke-width="0.7" />
<line x1="547.53" y1="17.00" x2="547.53" y2="18.20" stroke="#222" stroke-width="0.7" />
<line x1="587.52" y1="146.35" x2="587.52" y2="145.15" stroke="#222" stroke-width="0.7" />
<line x1="587.52" y1="17.00" x2="587.52" y2="18.20" stroke="#222" stroke-width="0.7" />
<line x1="627.51" y1="146.35" x2="627.51" y2="145.15" stroke="#222" stroke-width="0.7" />
<line x1="627.51" y1="17.00" x2="627.51" y2="18.20" stroke="#222" stroke-width="0.7" />
<line x1="487.55" y1="16.84" x2="489.55" y2="16.84" stroke="#ff0000" stroke-width="0.8" />
<line x1="487.55" y1="38.40" x2="489.55" y2="38.40" stroke="#ff0000" stroke-width="0.8" />
<line x1="487.55" y1="59.97" x2="489.55" y2="59.97" stroke="#ff0000" stroke-width="0.8" />
<line x1="487.55" y1="81.53" x2="489.55" y2="81.53" stroke="#ff0000" stroke-width="0.8" />
<line x1="487.55" y1="103.09" x2="489.55" y2="103.09" stroke="#ff0000" stroke-width="0.8" />
<line x1="487.55" y1="124.66" x2="489.55" y2="124.66" stroke="#ff0000" stroke-width="0.8" />
<line x1="487.55" y1="146.22" x2="489.55" y2="146.22" stroke="#ff0000" stroke-width="0.8" />
<line x1="487.55" y1="27.62" x2="488.75" y2="27.62" stroke="#ff0000" stroke-width="0.7" />
<line x1="487.55" y1="49.18" x2="488.75" y2="49.18" stroke="#ff0000" stroke-width="0.7" />
<line x1="487.55" y1="70.75" x2="488.75" y2="70.75" stroke="#ff0000" stroke-width="0.7" />
<line x1="487.55" y1="92.31" x2="488.75" y2="92.31" stroke="#ff0000" stroke-width="0.7" />
<line x1="487.55" y1="113.88" x2="488.75" y2="113.88" stroke="#ff0000" stroke-width="0.7" />
<line x1="487.55" y1="135.44" x2="488.75" y2="135.44" stroke="#ff0000" stroke-width="0.7" />
<line x1="647.50" y1="146.20" x2="645.50" y2="146.20" stroke="#0000ff" stroke-width="0.8" />
<line x1="647.50" y1="124.63" x2="645.50" y2="124.63" stroke="#0000ff" stroke-width="0.8" />
<line x1="647.50" y1="103.07" x2="645.50" y2="103.07" stroke="#0000ff" stroke-width="0.8" />
<line x1="647.50" y1="81.50" x2="645.50" y2="81.50" stroke="#0000ff" stroke-width="0.8" />
<line x1="647.50" y1="59.93" x2="645.50" y2="59.93" stroke="#0000ff" stroke-width="0.8" />
<line x1="647.50" y1="38.37" x2="645.50" y2="38.37" stroke="#0000ff" stroke-width="0.8" />
<line x1="647.50" y1="16.80" x2="645.50" y2="16.80" stroke="#0000ff" stroke-width="0.8" />
<line x1="647.50" y1="135.42" x2="646.30" y2="135.42" stroke="#0000ff" stroke-width="0.7" />
<line x1="647.50" y1="113.85" x2="646.30" y2="113.85" stroke="#0000ff" stroke-width="0.7" />
<line x1="647.50" y1="92.28" x2="646.30" y2="92.28" stroke="#0000ff" stroke-width="0.7" />
<line x1="647.50" y1="70.72" x2="646.30" y2="70.72" stroke="#0000ff" stroke-width="0.7" />
<line x1="647.50" y1="49.15" x2="646.30" y2="49.15" stroke="#0000ff" stroke-width="0.7" />
<line x1="647.50" y1="27.58" x2="646.30" y2="27.58" stroke="#0000ff" stroke-width="0.7" />
<text x="483.95" y="19.34" font-size="7" font-weight="bold" fill="#ff0000" text-anchor="end" >25</text>
<text x="483.95" y="40.90" font-size="7" font-weight="bold" fill="#ff0000" text-anchor="end" >20</text>
<text x="483.95" y="62.47" font-size="7" font-weight="bold" fill="#ff0000" text-anchor="end" >15</text>
<text x="483.95" y="84.03" font-size="7" font-weight="bold" fill="#ff0000" text-anchor="end" >10</text>
<text x="483.95" y="105.59" font-size="7" font-weight="bold" fill="#ff0000" text-anchor="end" >5</text>
<text x="483.95" y="127.16" font-size="7" font-weight="bold" fill="#ff0000" text-anchor="end" >0</text>
<text x="483.95" y="148.72" font-size="7" font-weight="bold" fill="#ff0000" text-anchor="end" >−5</text>
<text x="652.80" y="19.30" font-size="7" font-weight="bold" fill="#0000ff" text-anchor="start" >180</text>
<text x="652.80" y="40.87" font-size="7" font-weight="bold" fill="#0000ff" text-anchor="start" >120</text>
<text x="652.80" y="62.43" font-size="7" font-weight="bold" fill="#0000ff" text-anchor="start" >60</text>
<text x="652.80" y="84.00" font-size="7" font-weight="bold" fill="#0000ff" text-anchor="start" >60</text>
<text x="652.80" y="105.57" font-size="7" font-weight="bold" fill="#0000ff" text-anchor="start" >−60</text>
<text x="652.80" y="127.13" font-size="7" font-weight="bold" fill="#0000ff" text-anchor="start" >−120</text>
<text x="652.80" y="148.70" font-size="7" font-weight="bold" fill="#0000ff" text-anchor="start" >−180</text>
<text x="487.55" y="156.30" font-size="7" font-weight="bold" fill="#111" text-anchor="middle" >275</text>
<text x="527.54" y="156.30" font-size="7" font-weight="bold" fill="#111" text-anchor="middle" >300</text>
<text x="567.52" y="156.30" font-size="7" font-weight="bold" fill="#111" text-anchor="middle" >325</text>
<text x="607.51" y="156.30" font-size="7" font-weight="bold" fill="#111" text-anchor="middle" >350</text>
<text x="647.50" y="156.30" font-size="7" font-weight="bold" fill="#111" text-anchor="middle" >375</text>
<text x="564.32" y="167.20" font-size="7.2" font-weight="bold" fill="#111" text-anchor="middle" >Frequency(kHz)</text>
<text x="0" y="0" font-size="8.3" font-weight="normal" fill="#ff0000" text-anchor="middle" transform="translate(470.0,80.8) rotate(-90)">|Z|(kΩ)</text>
<text x="0" y="0" font-size="7.1" font-weight="bold" fill="#0000ff" text-anchor="middle" transform="translate(676.4,81.5) rotate(-90)">Phase(degree)</text>
<g>
<path d="M504.8,79.0 L549.5,82.6 L549.5,94.4 L540.4,94.2 L540.4,89.6 Q533,83.8 524.5,83.4 Q515,83.4 511.2,87.4 L505.0,87.3 Z" fill="#c5b08a"/>
<path d="M511.2,87.4 Q515,83.4 524.5,83.4 Q533,83.8 540.4,89.6 L540.4,88.0 Q533,82.6 524.5,82.3 Q515,82.3 511.2,86.0 Z" fill="#a89272"/>
<path d="M549.5,82.6 L556.4,78.2 L556.4,88.4 L549.5,94.4 Z" fill="#a68c64"/>
<path d="M504.8,79.0 L507.6,77.2 L556.4,78.2 L549.5,82.6 Z" fill="#86b03a"/>
<path d="M507.6,77.4 L546.0,79.4 L546.0,81.6 L507.6,79.6 Z" fill="#c9b58e"/>
<path d="M507.6,76.6 L545.0,77.6 L546.0,79.4 L507.6,77.4 Z" fill="#dccca6"/>
<path d="M510.6,75.0 L540.6,77.2 L540.6,78.9 L510.6,76.6 Z" fill="#98f028"/>
<path d="M510.4,75.2 L510.6,73.0 Q525,72.2 540.4,73.6 Q543.2,74.4 542.8,78.8 L540.6,77.4 Z" fill="#ee8a2c"/>
</g>
<text x="509.40" y="100.60" font-size="9.8" font-weight="bold" fill="#f0883a" text-anchor="start" >Cell</text>
<text x="462.60" y="185.20" font-size="14.8" font-weight="bold" fill="#000" text-anchor="start" >f</text>
<line x1="529.16" y1="178.10" x2="529.16" y2="306.30" stroke="#a0a0a0" stroke-width="0.5" />
<line x1="569.00" y1="178.10" x2="569.00" y2="306.30" stroke="#c4c4c4" stroke-width="0.5" />
<line x1="608.83" y1="178.10" x2="608.83" y2="306.30" stroke="#a0a0a0" stroke-width="0.5" />
<line x1="509.25" y1="178.10" x2="509.25" y2="306.30" stroke="#e4e4e4" stroke-width="0.5" stroke-dasharray="2 1"/>
<line x1="549.08" y1="178.10" x2="549.08" y2="306.30" stroke="#e4e4e4" stroke-width="0.5" stroke-dasharray="2 1"/>
<line x1="588.91" y1="178.10" x2="588.91" y2="306.30" stroke="#e4e4e4" stroke-width="0.5" stroke-dasharray="2 1"/>
<line x1="489.33" y1="210.15" x2="648.66" y2="210.15" stroke="#c0c0c0" stroke-width="0.55" />
<line x1="489.33" y1="242.20" x2="648.66" y2="242.20" stroke="#c0c0c0" stroke-width="0.55" />
<line x1="489.33" y1="274.25" x2="648.66" y2="274.25" stroke="#c0c0c0" stroke-width="0.55" />
<line x1="489.33" y1="194.12" x2="648.66" y2="194.12" stroke="#e2e2e2" stroke-width="0.5" stroke-dasharray="2.5 1"/>
<line x1="489.33" y1="226.18" x2="648.66" y2="226.18" stroke="#e2e2e2" stroke-width="0.5" stroke-dasharray="2.5 1"/>
<line x1="489.33" y1="258.23" x2="648.66" y2="258.23" stroke="#e2e2e2" stroke-width="0.5" stroke-dasharray="2.5 1"/>
<line x1="489.33" y1="290.27" x2="648.66" y2="290.27" stroke="#e2e2e2" stroke-width="0.5" stroke-dasharray="2.5 1"/>
<rect x="510.2" y="195.2" width="50.7" height="33.9" fill="#fff" stroke="#8a8a8a" stroke-width="0.6"/>
<line x1="510.60" y1="199.90" x2="526.40" y2="199.90" stroke="#ff2020" stroke-width="2.0" />
<text x="529.60" y="201.90" font-size="5.7" font-weight="normal" fill="#333" text-anchor="start" >FEM-|Z|</text>
<line x1="510.60" y1="208.40" x2="526.40" y2="208.40" stroke="#ff7070" stroke-width="1.0" stroke-dasharray="2.6 1 0.9 1"/>
<text x="529.60" y="210.40" font-size="5.7" font-weight="normal" fill="#333" text-anchor="start" >ECM-|Z|</text>
<line x1="510.60" y1="216.30" x2="526.40" y2="216.30" stroke="#8c96ff" stroke-width="1.0" />
<text x="529.60" y="218.30" font-size="5.7" font-weight="normal" fill="#333" text-anchor="start" >FEM-phase</text>
<line x1="510.60" y1="224.20" x2="526.40" y2="224.20" stroke="#b0b8ff" stroke-width="0.9" stroke-dasharray="2.6 1 0.9 1"/>
<text x="529.60" y="226.20" font-size="5.7" font-weight="normal" fill="#333" text-anchor="start" >ECM-phase</text>
<path d="M489.33,274.25 L570.59,274.25 L572.02,274.19 L572.79,273.93 L573.52,273.08 L574.09,271.50 L575.11,265.23 L575.94,256.13 L577.73,231.36 L578.65,222.30 L579.57,217.94 L580.08,217.12 L580.79,216.92 L581.49,217.12 L582.00,217.94 L582.92,222.30 L583.84,231.36 L586.43,264.95 L587.38,271.12 L587.92,272.81 L588.59,273.79 L589.36,274.15 L590.76,274.25 L648.66,274.25" fill="none" stroke="#aab4ff" stroke-width="0.8" stroke-linejoin="round" stroke-dasharray="2.6 1 0.9 1"/>
<path d="M489.33,274.25 L573.39,274.25 L575.02,274.18 L575.88,273.90 L576.67,273.07 L577.34,271.43 L578.49,265.21 L579.45,256.01 L581.45,231.81 L582.51,222.90 L583.02,220.29 L583.56,218.62 L584.13,217.82 L584.93,217.63 L585.72,217.82 L586.33,218.69 L586.87,220.42 L587.38,223.10 L588.40,231.81 L590.41,256.01 L591.30,264.71 L592.38,270.98 L592.99,272.71 L593.69,273.70 L594.55,274.13 L596.08,274.25 L648.66,274.25" fill="none" stroke="#7f8cff" stroke-width="1.2" stroke-linejoin="round" />
<path d="M489.33,270.92 L559.34,271.22 L571.77,271.71 L576.64,272.08 L580.18,272.71 L583.11,273.90 L583.94,272.85 L584.61,270.95 L585.06,268.48 L585.41,264.71 L585.79,254.76 L586.23,226.81 L586.65,249.86 L587.13,259.52 L587.57,262.92 L588.15,265.20 L588.97,266.86 L590.15,268.03 L591.78,268.84 L594.07,269.41 L601.91,270.11 L617.53,270.45 L648.66,270.63" fill="none" stroke="#ff2a2a" stroke-width="1.1" stroke-linejoin="round" stroke-dasharray="3 1.2 1 1.2"/>
<path d="M489.33,269.58 L546.43,270.82 L572.56,271.67 L577.28,271.97 L580.66,272.40 L582.89,272.94 L585.34,273.94 L586.23,272.95 L586.97,271.21 L587.48,268.87 L587.86,265.66 L588.34,256.89 L588.97,233.15 L589.64,250.73 L590.38,258.64 L590.95,261.33 L591.75,263.44 L592.80,265.00 L594.17,266.14 L595.79,266.92 L597.90,267.51 L604.27,268.32 L621.70,269.27 L648.66,270.18" fill="none" stroke="#ff0a0a" stroke-width="1.8" stroke-linejoin="round" />
<line x1="489.33" y1="178.10" x2="648.66" y2="178.10" stroke="#707070" stroke-width="1.3" />
<line x1="489.33" y1="306.30" x2="648.66" y2="306.30" stroke="#222" stroke-width="1.0" />
<line x1="489.33" y1="177.60" x2="489.33" y2="306.80" stroke="#ff1a1a" stroke-width="1.0" />
<line x1="648.66" y1="177.60" x2="648.66" y2="306.80" stroke="#3030ff" stroke-width="1.0" />
<line x1="489.33" y1="306.30" x2="489.33" y2="304.30" stroke="#222" stroke-width="0.8" />
<line x1="489.33" y1="178.10" x2="489.33" y2="180.10" stroke="#222" stroke-width="0.8" />
<line x1="529.16" y1="306.30" x2="529.16" y2="304.30" stroke="#222" stroke-width="0.8" />
<line x1="529.16" y1="178.10" x2="529.16" y2="180.10" stroke="#222" stroke-width="0.8" />
<line x1="569.00" y1="306.30" x2="569.00" y2="304.30" stroke="#222" stroke-width="0.8" />
<line x1="569.00" y1="178.10" x2="569.00" y2="180.10" stroke="#222" stroke-width="0.8" />
<line x1="608.83" y1="306.30" x2="608.83" y2="304.30" stroke="#222" stroke-width="0.8" />
<line x1="608.83" y1="178.10" x2="608.83" y2="180.10" stroke="#222" stroke-width="0.8" />
<line x1="648.66" y1="306.30" x2="648.66" y2="304.30" stroke="#222" stroke-width="0.8" />
<line x1="648.66" y1="178.10" x2="648.66" y2="180.10" stroke="#222" stroke-width="0.8" />
<line x1="509.25" y1="306.30" x2="509.25" y2="305.10" stroke="#222" stroke-width="0.7" />
<line x1="509.25" y1="178.10" x2="509.25" y2="179.30" stroke="#222" stroke-width="0.7" />
<line x1="549.08" y1="306.30" x2="549.08" y2="305.10" stroke="#222" stroke-width="0.7" />
<line x1="549.08" y1="178.10" x2="549.08" y2="179.30" stroke="#222" stroke-width="0.7" />
<line x1="588.91" y1="306.30" x2="588.91" y2="305.10" stroke="#222" stroke-width="0.7" />
<line x1="588.91" y1="178.10" x2="588.91" y2="179.30" stroke="#222" stroke-width="0.7" />
<line x1="628.74" y1="306.30" x2="628.74" y2="305.10" stroke="#222" stroke-width="0.7" />
<line x1="628.74" y1="178.10" x2="628.74" y2="179.30" stroke="#222" stroke-width="0.7" />
<line x1="489.33" y1="178.10" x2="491.33" y2="178.10" stroke="#ff0000" stroke-width="0.8" />
<line x1="489.33" y1="210.15" x2="491.33" y2="210.15" stroke="#ff0000" stroke-width="0.8" />
<line x1="489.33" y1="242.20" x2="491.33" y2="242.20" stroke="#ff0000" stroke-width="0.8" />
<line x1="489.33" y1="274.25" x2="491.33" y2="274.25" stroke="#ff0000" stroke-width="0.8" />
<line x1="489.33" y1="306.30" x2="491.33" y2="306.30" stroke="#ff0000" stroke-width="0.8" />
<line x1="489.33" y1="194.12" x2="490.53" y2="194.12" stroke="#ff0000" stroke-width="0.7" />
<line x1="489.33" y1="226.18" x2="490.53" y2="226.18" stroke="#ff0000" stroke-width="0.7" />
<line x1="489.33" y1="258.23" x2="490.53" y2="258.23" stroke="#ff0000" stroke-width="0.7" />
<line x1="489.33" y1="290.27" x2="490.53" y2="290.27" stroke="#ff0000" stroke-width="0.7" />
<line x1="648.66" y1="306.30" x2="646.66" y2="306.30" stroke="#0000ff" stroke-width="0.8" />
<line x1="648.66" y1="284.93" x2="646.66" y2="284.93" stroke="#0000ff" stroke-width="0.8" />
<line x1="648.66" y1="263.57" x2="646.66" y2="263.57" stroke="#0000ff" stroke-width="0.8" />
<line x1="648.66" y1="242.20" x2="646.66" y2="242.20" stroke="#0000ff" stroke-width="0.8" />
<line x1="648.66" y1="220.83" x2="646.66" y2="220.83" stroke="#0000ff" stroke-width="0.8" />
<line x1="648.66" y1="199.47" x2="646.66" y2="199.47" stroke="#0000ff" stroke-width="0.8" />
<line x1="648.66" y1="178.10" x2="646.66" y2="178.10" stroke="#0000ff" stroke-width="0.8" />
<line x1="648.66" y1="295.62" x2="647.46" y2="295.62" stroke="#0000ff" stroke-width="0.7" />
<line x1="648.66" y1="274.25" x2="647.46" y2="274.25" stroke="#0000ff" stroke-width="0.7" />
<line x1="648.66" y1="252.88" x2="647.46" y2="252.88" stroke="#0000ff" stroke-width="0.7" />
<line x1="648.66" y1="231.52" x2="647.46" y2="231.52" stroke="#0000ff" stroke-width="0.7" />
<line x1="648.66" y1="210.15" x2="647.46" y2="210.15" stroke="#0000ff" stroke-width="0.7" />
<line x1="648.66" y1="188.78" x2="647.46" y2="188.78" stroke="#0000ff" stroke-width="0.7" />
<text x="485.73" y="180.60" font-size="7" font-weight="bold" fill="#ff0000" text-anchor="end" >15</text>
<text x="485.73" y="212.65" font-size="7" font-weight="bold" fill="#ff0000" text-anchor="end" >10</text>
<text x="485.73" y="244.70" font-size="7" font-weight="bold" fill="#ff0000" text-anchor="end" >5</text>
<text x="485.73" y="276.75" font-size="7" font-weight="bold" fill="#ff0000" text-anchor="end" >0</text>
<text x="485.73" y="308.80" font-size="7" font-weight="bold" fill="#ff0000" text-anchor="end" >−5</text>
<text x="653.96" y="180.60" font-size="7" font-weight="bold" fill="#0000ff" text-anchor="start" >180</text>
<text x="653.96" y="201.97" font-size="7" font-weight="bold" fill="#0000ff" text-anchor="start" >120</text>
<text x="653.96" y="223.33" font-size="7" font-weight="bold" fill="#0000ff" text-anchor="start" >160</text>
<text x="653.96" y="244.70" font-size="7" font-weight="bold" fill="#0000ff" text-anchor="start" >0</text>
<text x="653.96" y="266.07" font-size="7" font-weight="bold" fill="#0000ff" text-anchor="start" >−60</text>
<text x="653.96" y="287.43" font-size="7" font-weight="bold" fill="#0000ff" text-anchor="start" >−120</text>
<text x="653.96" y="308.80" font-size="7" font-weight="bold" fill="#0000ff" text-anchor="start" >−180</text>
<text x="489.33" y="316.50" font-size="7" font-weight="bold" fill="#111" text-anchor="middle" >275</text>
<text x="529.16" y="316.50" font-size="7" font-weight="bold" fill="#111" text-anchor="middle" >300</text>
<text x="569.00" y="316.50" font-size="7" font-weight="bold" fill="#111" text-anchor="middle" >325</text>
<text x="608.83" y="316.50" font-size="7" font-weight="bold" fill="#111" text-anchor="middle" >350</text>
<text x="648.66" y="316.50" font-size="7" font-weight="bold" fill="#111" text-anchor="middle" >375</text>
<text x="569.29" y="326.00" font-size="7.2" font-weight="bold" fill="#111" text-anchor="middle" >Frequency(kHz)</text>
<text x="0" y="0" font-size="8.3" font-weight="normal" fill="#ff0000" text-anchor="middle" transform="translate(470.3,242.3) rotate(-90)">|Z|(kΩ)</text>
<text x="0" y="0" font-size="7.2" font-weight="bold" fill="#0000ff" text-anchor="middle" transform="translate(678.2,242.6) rotate(-90)">Phase(degree)</text>
<path d="M581.5,200.9 L615.3,225.4 L615.3,228.6 L581.5,202.82 Z" fill="#d6b27a"/>
<path d="M615.3,225.4 L637.6,214.2 L637.6,216.76 L615.3,228.6 Z" fill="#b08a56"/>
<path d="M581.5,200.9 L599.1,196.0 L637.6,214.2 L615.3,225.4 Z" fill="#7fa521"/>
<ellipse cx="594.8" cy="199.29999999999998" rx="7.3" ry="3.5" fill="#cdb07c"/>
<ellipse cx="594.8" cy="199.4" rx="6.6" ry="2.9" fill="#d2721a"/>
<ellipse cx="594.8" cy="198.6" rx="6.6" ry="2.9" fill="#f28a22"/>
<ellipse cx="604.7" cy="205.29999999999998" rx="8.1" ry="3.9" fill="#cdb07c"/>
<ellipse cx="604.7" cy="205.4" rx="7.4" ry="3.3" fill="#d2721a"/>
<ellipse cx="604.7" cy="204.6" rx="7.4" ry="3.3" fill="#f28a22"/>
<ellipse cx="619.0" cy="212.7" rx="9.899999999999999" ry="4.699999999999999" fill="#cdb07c"/>
<ellipse cx="619.0" cy="212.8" rx="9.2" ry="4.1" fill="#d2721a"/>
<ellipse cx="619.0" cy="212.0" rx="9.2" ry="4.1" fill="#f28a22"/>
<path d="M599.2,200.6 L601.4,202.2 M609.6,206.6 L612.2,208.4" stroke="#8a9aa8" stroke-width="0.9"/>
<text x="597.80" y="240.00" font-size="9.8" font-weight="bold" fill="#f0883a" text-anchor="start" >Channel</text></svg>
</body></html>
